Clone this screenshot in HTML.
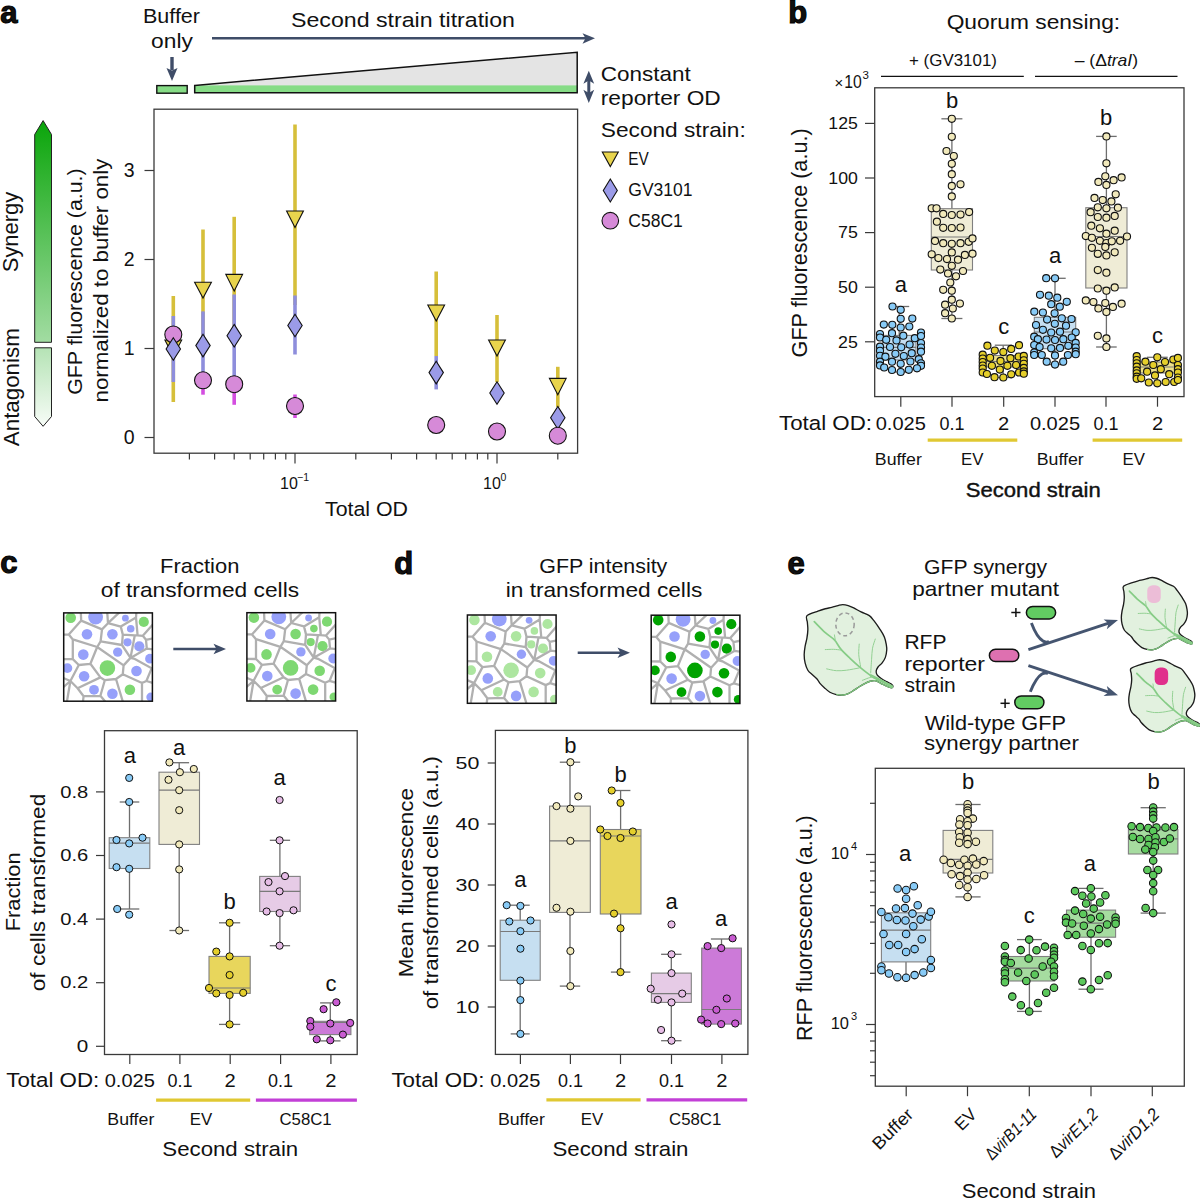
<!DOCTYPE html><html><head><meta charset="utf-8"><style>html,body{margin:0;padding:0;background:#fff;}svg{display:block;}text{font-family:"Liberation Sans",sans-serif;fill:#111;}</style></head><body>
<svg width="1200" height="1199" viewBox="0 0 1200 1199">
<rect width="1200" height="1199" fill="#fff"/>
<text x="0.3" y="22.7" font-size="31" font-weight="bold" stroke="#000" stroke-width="1.1" fill="#000">a</text>
<text x="171.5" y="22.7" font-size="21" text-anchor="middle" textLength="57" lengthAdjust="spacingAndGlyphs">Buffer</text>
<text x="172.0" y="47.8" font-size="21" text-anchor="middle" textLength="41.8" lengthAdjust="spacingAndGlyphs">only</text>
<line x1="172.0" y1="57.0" x2="172.0" y2="70.0" stroke="#3f4d68" stroke-width="3.4"/>
<path d="M166.5,68 L172,81 L177.5,68 L172,70.5 Z" fill="#3f4d68"/>
<text x="403.0" y="27.0" font-size="20.5" text-anchor="middle" textLength="224" lengthAdjust="spacingAndGlyphs">Second strain titration</text>
<line x1="212.0" y1="38.3" x2="588.0" y2="38.3" stroke="#3f4d68" stroke-width="2.6"/>
<path d="M582.5,33.3 L595,38.3 L582.5,43.7 L585.5,38.3 Z" fill="#3f4d68"/>
<rect x="156.8" y="85.6" width="30.4" height="7.6" fill="#86dc86" stroke="#111" stroke-width="1.4"/>
<path d="M194.7,85.4 L577.2,52.2 L577.2,92.8 L194.7,92.8 Z" fill="#e4e4e4" stroke="none"/>
<rect x="194.7" y="85.4" width="382.5" height="7.4" fill="#86dc86" stroke="none" stroke-width="1"/>
<path d="M194.7,85.4 L577.2,52.2 L577.2,92.8 L194.7,92.8 Z" fill="none" stroke="#111" stroke-width="1.5" stroke-linejoin="miter"/>
<line x1="588.8" y1="78.0" x2="588.8" y2="96.0" stroke="#3f4d68" stroke-width="3"/>
<path d="M588.8,70.7 L594.1999999999999,83.8 L588.8,80.5 L583.4,83.8 Z" fill="#3f4d68"/>
<path d="M588.8,102.9 L594.1999999999999,89.8 L588.8,93.1 L583.4,89.8 Z" fill="#3f4d68"/>
<text x="600.8" y="80.8" font-size="21" textLength="90" lengthAdjust="spacingAndGlyphs">Constant</text>
<text x="600.8" y="105.0" font-size="21" textLength="120" lengthAdjust="spacingAndGlyphs">reporter OD</text>
<text x="600.8" y="137.0" font-size="21" textLength="145" lengthAdjust="spacingAndGlyphs">Second strain:</text>
<path d="M602.3,152 L618.3,152 L610.3,166.5 Z" fill="#e8d44d" stroke="#111" stroke-width="1.1"/>
<text x="628.3" y="165.0" font-size="17.5" textLength="20.5" lengthAdjust="spacingAndGlyphs">EV</text>
<path d="M610.3,179 L617.3,190.5 L610.3,202 L603.3,190.5 Z" fill="#9b9be8" stroke="#111" stroke-width="1.1"/>
<text x="628.3" y="196.0" font-size="17.5">GV3101</text>
<circle cx="610.3" cy="220.7" r="8.3" fill="#d68ad8" stroke="#111" stroke-width="1.1"/>
<text x="628.3" y="227.0" font-size="17.5">C58C1</text>
<defs><linearGradient id="gA" x1="0" y1="0" x2="0" y2="1">
<stop offset="0" stop-color="#0aa50a"/><stop offset="1" stop-color="#a2dca2"/></linearGradient>
<linearGradient id="gB" x1="0" y1="0" x2="0" y2="1">
<stop offset="0" stop-color="#b5e3b5"/><stop offset="1" stop-color="#f7fcf7"/></linearGradient></defs>
<path d="M34.7,134.5 L43.1,120.6 L51.5,134.5 L51.5,342.3 L34.7,342.3 Z" fill="url(#gA)" stroke="#222" stroke-width="1"/>
<path d="M34.7,347.8 L51.5,347.8 L51.5,416.5 L43.1,426.3 L34.7,416.5 Z" fill="url(#gB)" stroke="#222" stroke-width="1"/>
<text transform="translate(18.3,232.0) rotate(-90)" font-size="21.5" text-anchor="middle" textLength="80.5" lengthAdjust="spacingAndGlyphs">Synergy</text>
<text transform="translate(18.7,387.2) rotate(-90)" font-size="21.5" text-anchor="middle" textLength="117.9" lengthAdjust="spacingAndGlyphs">Antagonism</text>
<text transform="translate(82.0,281.6) rotate(-90)" font-size="21" text-anchor="middle" textLength="226.5" lengthAdjust="spacingAndGlyphs">GFP fluorescence (a.u.)</text>
<text transform="translate(108.0,280.6) rotate(-90)" font-size="21" text-anchor="middle" textLength="243.8" lengthAdjust="spacingAndGlyphs">normalized to buffer only</text>
<rect x="154.0" y="109.2" width="423.6" height="344.0" fill="none" stroke="#3a3a3a" stroke-width="1.3"/>
<line x1="144.5" y1="437.5" x2="154.0" y2="437.5" stroke="#3a3a3a" stroke-width="1.2"/>
<text x="134.6" y="444.4" font-size="19.5" text-anchor="end">0</text>
<line x1="144.5" y1="348.5" x2="154.0" y2="348.5" stroke="#3a3a3a" stroke-width="1.2"/>
<text x="134.6" y="355.4" font-size="19.5" text-anchor="end">1</text>
<line x1="144.5" y1="259.5" x2="154.0" y2="259.5" stroke="#3a3a3a" stroke-width="1.2"/>
<text x="134.6" y="266.4" font-size="19.5" text-anchor="end">2</text>
<line x1="144.5" y1="170.5" x2="154.0" y2="170.5" stroke="#3a3a3a" stroke-width="1.2"/>
<text x="134.6" y="177.4" font-size="19.5" text-anchor="end">3</text>
<line x1="189.4" y1="453.0" x2="189.4" y2="459.5" stroke="#3a3a3a" stroke-width="1.2"/>
<line x1="214.6" y1="453.0" x2="214.6" y2="459.5" stroke="#3a3a3a" stroke-width="1.2"/>
<line x1="234.2" y1="453.0" x2="234.2" y2="459.5" stroke="#3a3a3a" stroke-width="1.2"/>
<line x1="250.2" y1="453.0" x2="250.2" y2="459.5" stroke="#3a3a3a" stroke-width="1.2"/>
<line x1="263.7" y1="453.0" x2="263.7" y2="459.5" stroke="#3a3a3a" stroke-width="1.2"/>
<line x1="275.4" y1="453.0" x2="275.4" y2="459.5" stroke="#3a3a3a" stroke-width="1.2"/>
<line x1="285.8" y1="453.0" x2="285.8" y2="459.5" stroke="#3a3a3a" stroke-width="1.2"/>
<line x1="355.8" y1="453.0" x2="355.8" y2="459.5" stroke="#3a3a3a" stroke-width="1.2"/>
<line x1="391.4" y1="453.0" x2="391.4" y2="459.5" stroke="#3a3a3a" stroke-width="1.2"/>
<line x1="416.6" y1="453.0" x2="416.6" y2="459.5" stroke="#3a3a3a" stroke-width="1.2"/>
<line x1="436.2" y1="453.0" x2="436.2" y2="459.5" stroke="#3a3a3a" stroke-width="1.2"/>
<line x1="452.2" y1="453.0" x2="452.2" y2="459.5" stroke="#3a3a3a" stroke-width="1.2"/>
<line x1="465.7" y1="453.0" x2="465.7" y2="459.5" stroke="#3a3a3a" stroke-width="1.2"/>
<line x1="477.4" y1="453.0" x2="477.4" y2="459.5" stroke="#3a3a3a" stroke-width="1.2"/>
<line x1="487.8" y1="453.0" x2="487.8" y2="459.5" stroke="#3a3a3a" stroke-width="1.2"/>
<line x1="557.8" y1="453.0" x2="557.8" y2="459.5" stroke="#3a3a3a" stroke-width="1.2"/>
<line x1="295.0" y1="453.0" x2="295.0" y2="463.5" stroke="#3a3a3a" stroke-width="1.2"/>
<line x1="497.0" y1="453.0" x2="497.0" y2="463.5" stroke="#3a3a3a" stroke-width="1.2"/>
<text x="289.0" y="488.7" font-size="16" text-anchor="middle">10</text>
<text x="303.0" y="481.0" font-size="10.5" text-anchor="middle">−1</text>
<text x="492.0" y="488.7" font-size="16" text-anchor="middle">10</text>
<text x="503.5" y="481.0" font-size="10.5" text-anchor="middle">0</text>
<text x="366.5" y="516.0" font-size="20.5" text-anchor="middle" textLength="83" lengthAdjust="spacingAndGlyphs">Total OD</text>
<line x1="173.3" y1="296.0" x2="173.3" y2="402.0" stroke="#d6bf3a" stroke-width="3.6"/>
<line x1="203.0" y1="229.5" x2="203.0" y2="344.0" stroke="#d6bf3a" stroke-width="3.6"/>
<line x1="234.2" y1="216.8" x2="234.2" y2="337.0" stroke="#d6bf3a" stroke-width="3.6"/>
<line x1="295.0" y1="124.5" x2="295.0" y2="305.0" stroke="#d6bf3a" stroke-width="3.6"/>
<line x1="436.2" y1="271.5" x2="436.2" y2="356.0" stroke="#d6bf3a" stroke-width="3.6"/>
<line x1="497.0" y1="315.0" x2="497.0" y2="382.0" stroke="#d6bf3a" stroke-width="3.6"/>
<line x1="557.8" y1="366.8" x2="557.8" y2="407.0" stroke="#d6bf3a" stroke-width="3.6"/>
<line x1="173.3" y1="316.0" x2="173.3" y2="382.0" stroke="#8e8edc" stroke-width="3.6"/>
<line x1="203.0" y1="311.4" x2="203.0" y2="375.0" stroke="#8e8edc" stroke-width="3.6"/>
<line x1="234.2" y1="294.5" x2="234.2" y2="378.0" stroke="#8e8edc" stroke-width="3.6"/>
<line x1="295.0" y1="295.5" x2="295.0" y2="354.5" stroke="#8e8edc" stroke-width="3.6"/>
<line x1="436.2" y1="356.0" x2="436.2" y2="389.4" stroke="#8e8edc" stroke-width="3.6"/>
<line x1="497.0" y1="385.0" x2="497.0" y2="400.0" stroke="#8e8edc" stroke-width="3.6"/>
<line x1="557.8" y1="410.0" x2="557.8" y2="425.0" stroke="#8e8edc" stroke-width="3.6"/>
<line x1="173.3" y1="330.0" x2="173.3" y2="340.0" stroke="#d44ee0" stroke-width="3.6"/>
<line x1="203.0" y1="375.0" x2="203.0" y2="394.7" stroke="#d44ee0" stroke-width="3.6"/>
<line x1="234.2" y1="378.0" x2="234.2" y2="404.8" stroke="#d44ee0" stroke-width="3.6"/>
<line x1="295.0" y1="394.5" x2="295.0" y2="418.0" stroke="#d44ee0" stroke-width="3.6"/>
<path d="M164.9,340 L181.7,340 L173.3,356 Z" fill="#e8d44d" stroke="#111" stroke-width="1.1"/>
<path d="M194.6,282.3 L211.4,282.3 L203.0,298 Z" fill="#e8d44d" stroke="#111" stroke-width="1.1"/>
<path d="M225.8,274.4 L242.6,274.4 L234.2,291 Z" fill="#e8d44d" stroke="#111" stroke-width="1.1"/>
<path d="M286.6,211 L303.4,211 L295.0,227.5 Z" fill="#e8d44d" stroke="#111" stroke-width="1.1"/>
<path d="M427.8,305 L444.6,305 L436.2,321 Z" fill="#e8d44d" stroke="#111" stroke-width="1.1"/>
<path d="M488.6,340 L505.4,340 L497.0,356 Z" fill="#e8d44d" stroke="#111" stroke-width="1.1"/>
<path d="M549.4,378.4 L566.2,378.4 L557.8,394.8 Z" fill="#e8d44d" stroke="#111" stroke-width="1.1"/>
<circle cx="173.3" cy="334.5" r="8.5" fill="#d68ad8" stroke="#111" stroke-width="1.1"/>
<path d="M173.3,337.7 L180.5,349.0 L173.3,360.3 L166.1,349.0 Z" fill="#9b9be8" stroke="#111" stroke-width="1.1"/>
<path d="M203.0,334.3 L210.2,345.6 L203.0,356.9 L195.8,345.6 Z" fill="#9b9be8" stroke="#111" stroke-width="1.1"/>
<path d="M234.2,324.4 L241.4,335.7 L234.2,347.0 L227.0,335.7 Z" fill="#9b9be8" stroke="#111" stroke-width="1.1"/>
<path d="M295.0,314.2 L302.2,325.5 L295.0,336.8 L287.8,325.5 Z" fill="#9b9be8" stroke="#111" stroke-width="1.1"/>
<path d="M436.2,361.3 L443.4,372.6 L436.2,383.9 L429.0,372.6 Z" fill="#9b9be8" stroke="#111" stroke-width="1.1"/>
<path d="M497.0,381.7 L504.2,393.0 L497.0,404.3 L489.8,393.0 Z" fill="#9b9be8" stroke="#111" stroke-width="1.1"/>
<path d="M557.8,406.4 L565.0,417.7 L557.8,429.0 L550.6,417.7 Z" fill="#9b9be8" stroke="#111" stroke-width="1.1"/>
<circle cx="203.0" cy="380.3" r="8.5" fill="#d68ad8" stroke="#111" stroke-width="1.1"/>
<circle cx="234.2" cy="384.2" r="8.5" fill="#d68ad8" stroke="#111" stroke-width="1.1"/>
<circle cx="295.0" cy="406.0" r="8.5" fill="#d68ad8" stroke="#111" stroke-width="1.1"/>
<circle cx="436.2" cy="425.0" r="8.5" fill="#d68ad8" stroke="#111" stroke-width="1.1"/>
<circle cx="497.0" cy="431.5" r="8.5" fill="#d68ad8" stroke="#111" stroke-width="1.1"/>
<circle cx="557.8" cy="435.7" r="8.5" fill="#d68ad8" stroke="#111" stroke-width="1.1"/>
<text x="788.2" y="23.3" font-size="31" font-weight="bold" stroke="#000" stroke-width="1.1" fill="#000">b</text>
<text x="1033.4" y="29.4" font-size="20.5" text-anchor="middle" textLength="173.5" lengthAdjust="spacingAndGlyphs">Quorum sensing:</text>
<text x="953.0" y="66.3" font-size="16.5" text-anchor="middle" textLength="87.9" lengthAdjust="spacingAndGlyphs">+ (GV3101)</text>
<text x="1106.4" y="66.3" font-size="16.5" text-anchor="middle" textLength="63.4" lengthAdjust="spacingAndGlyphs">– (Δ<tspan font-style="italic">traI</tspan>)</text>
<line x1="881.0" y1="76.3" x2="1023.8" y2="76.3" stroke="#111" stroke-width="1.2"/>
<line x1="1035.0" y1="76.3" x2="1177.5" y2="76.3" stroke="#111" stroke-width="1.2"/>
<text x="834.5" y="88.0" font-size="15">×</text>
<text x="844.2" y="88.0" font-size="17.5" textLength="17.5" lengthAdjust="spacingAndGlyphs">10</text>
<text x="862.5" y="79.0" font-size="11.5">3</text>
<line x1="899.2" y1="306.5" x2="899.2" y2="335.4" stroke="#6e6e6e" stroke-width="1.3"/>
<line x1="889.2" y1="306.5" x2="909.2" y2="306.5" stroke="#6e6e6e" stroke-width="1.3"/>
<line x1="899.2" y1="360.0" x2="899.2" y2="372.0" stroke="#6e6e6e" stroke-width="1.3"/>
<line x1="889.2" y1="372.0" x2="909.2" y2="372.0" stroke="#6e6e6e" stroke-width="1.3"/>
<rect x="882.5" y="335.4" width="33.5" height="24.6" fill="#c6dff1" stroke="#808080" stroke-width="1.1"/>
<line x1="882.5" y1="347.3" x2="916.0" y2="347.3" stroke="#7a7a7a" stroke-width="1.2"/>
<line x1="951.9" y1="118.8" x2="951.9" y2="208.7" stroke="#6e6e6e" stroke-width="1.3"/>
<line x1="941.4" y1="118.8" x2="962.4" y2="118.8" stroke="#6e6e6e" stroke-width="1.3"/>
<line x1="951.9" y1="270.0" x2="951.9" y2="318.5" stroke="#6e6e6e" stroke-width="1.3"/>
<line x1="941.4" y1="318.5" x2="962.4" y2="318.5" stroke="#6e6e6e" stroke-width="1.3"/>
<rect x="931.3" y="208.7" width="41.2" height="61.3" fill="#efecd6" stroke="#808080" stroke-width="1.1"/>
<line x1="931.3" y1="237.0" x2="972.5" y2="237.0" stroke="#7a7a7a" stroke-width="1.2"/>
<line x1="1003.2" y1="345.2" x2="1003.2" y2="355.5" stroke="#6e6e6e" stroke-width="1.3"/>
<line x1="994.8" y1="345.2" x2="1011.8" y2="345.2" stroke="#6e6e6e" stroke-width="1.3"/>
<line x1="1003.2" y1="367.0" x2="1003.2" y2="377.5" stroke="#6e6e6e" stroke-width="1.3"/>
<line x1="994.8" y1="377.5" x2="1011.8" y2="377.5" stroke="#6e6e6e" stroke-width="1.3"/>
<rect x="982.7" y="355.5" width="41.1" height="11.5" fill="#ece08a" stroke="#808080" stroke-width="1.1"/>
<line x1="982.7" y1="361.5" x2="1023.8" y2="361.5" stroke="#7a7a7a" stroke-width="1.2"/>
<line x1="1055.0" y1="278.3" x2="1055.0" y2="317.3" stroke="#6e6e6e" stroke-width="1.3"/>
<line x1="1044.3" y1="278.3" x2="1065.7" y2="278.3" stroke="#6e6e6e" stroke-width="1.3"/>
<line x1="1055.0" y1="348.8" x2="1055.0" y2="364.6" stroke="#6e6e6e" stroke-width="1.3"/>
<line x1="1044.3" y1="364.6" x2="1065.7" y2="364.6" stroke="#6e6e6e" stroke-width="1.3"/>
<rect x="1034.3" y="317.3" width="41.4" height="31.4" fill="#c6dff1" stroke="#808080" stroke-width="1.1"/>
<line x1="1034.3" y1="332.0" x2="1075.7" y2="332.0" stroke="#7a7a7a" stroke-width="1.2"/>
<line x1="1106.4" y1="136.4" x2="1106.4" y2="207.7" stroke="#6e6e6e" stroke-width="1.3"/>
<line x1="1096.1" y1="136.4" x2="1116.7" y2="136.4" stroke="#6e6e6e" stroke-width="1.3"/>
<line x1="1106.4" y1="288.0" x2="1106.4" y2="347.0" stroke="#6e6e6e" stroke-width="1.3"/>
<line x1="1096.1" y1="347.0" x2="1116.7" y2="347.0" stroke="#6e6e6e" stroke-width="1.3"/>
<rect x="1085.8" y="207.7" width="41.2" height="80.3" fill="#efecd6" stroke="#808080" stroke-width="1.1"/>
<line x1="1085.8" y1="236.5" x2="1127.0" y2="236.5" stroke="#7a7a7a" stroke-width="1.2"/>
<line x1="1157.3" y1="357.3" x2="1157.3" y2="362.0" stroke="#6e6e6e" stroke-width="1.3"/>
<line x1="1146.9" y1="357.3" x2="1167.7" y2="357.3" stroke="#6e6e6e" stroke-width="1.3"/>
<line x1="1157.3" y1="373.0" x2="1157.3" y2="383.3" stroke="#6e6e6e" stroke-width="1.3"/>
<line x1="1146.9" y1="383.3" x2="1167.7" y2="383.3" stroke="#6e6e6e" stroke-width="1.3"/>
<rect x="1136.7" y="362.0" width="41.2" height="11.0" fill="#ece08a" stroke="#808080" stroke-width="1.1"/>
<line x1="1136.7" y1="367.0" x2="1177.9" y2="367.0" stroke="#7a7a7a" stroke-width="1.2"/>
<circle cx="892.5" cy="306.5" r="3.55" fill="#88cbf7" stroke="#111" stroke-width="1.1"/>
<circle cx="900.7" cy="309.8" r="3.55" fill="#88cbf7" stroke="#111" stroke-width="1.1"/>
<circle cx="900.7" cy="318.8" r="3.55" fill="#88cbf7" stroke="#111" stroke-width="1.1"/>
<circle cx="912.3" cy="318.6" r="3.55" fill="#88cbf7" stroke="#111" stroke-width="1.1"/>
<circle cx="883.8" cy="324.6" r="3.55" fill="#88cbf7" stroke="#111" stroke-width="1.1"/>
<circle cx="892.3" cy="324.8" r="3.55" fill="#88cbf7" stroke="#111" stroke-width="1.1"/>
<circle cx="900.7" cy="327.5" r="3.55" fill="#88cbf7" stroke="#111" stroke-width="1.1"/>
<circle cx="909.3" cy="326.5" r="3.55" fill="#88cbf7" stroke="#111" stroke-width="1.1"/>
<circle cx="880.0" cy="334.0" r="3.55" fill="#88cbf7" stroke="#111" stroke-width="1.1"/>
<circle cx="892.0" cy="333.2" r="3.55" fill="#88cbf7" stroke="#111" stroke-width="1.1"/>
<circle cx="903.3" cy="335.7" r="3.55" fill="#88cbf7" stroke="#111" stroke-width="1.1"/>
<circle cx="914.8" cy="338.2" r="3.55" fill="#88cbf7" stroke="#111" stroke-width="1.1"/>
<circle cx="921.0" cy="332.5" r="3.55" fill="#88cbf7" stroke="#111" stroke-width="1.1"/>
<circle cx="880.0" cy="337.5" r="3.55" fill="#88cbf7" stroke="#111" stroke-width="1.1"/>
<circle cx="886.2" cy="339.8" r="3.55" fill="#88cbf7" stroke="#111" stroke-width="1.1"/>
<circle cx="896.5" cy="340.4" r="3.55" fill="#88cbf7" stroke="#111" stroke-width="1.1"/>
<circle cx="921.0" cy="336.0" r="3.55" fill="#88cbf7" stroke="#111" stroke-width="1.1"/>
<circle cx="921.0" cy="343.0" r="3.55" fill="#88cbf7" stroke="#111" stroke-width="1.1"/>
<circle cx="921.0" cy="347.5" r="3.55" fill="#88cbf7" stroke="#111" stroke-width="1.1"/>
<circle cx="921.0" cy="351.7" r="3.55" fill="#88cbf7" stroke="#111" stroke-width="1.1"/>
<circle cx="880.0" cy="346.7" r="3.55" fill="#88cbf7" stroke="#111" stroke-width="1.1"/>
<circle cx="880.0" cy="350.8" r="3.55" fill="#88cbf7" stroke="#111" stroke-width="1.1"/>
<circle cx="890.0" cy="347.0" r="3.55" fill="#88cbf7" stroke="#111" stroke-width="1.1"/>
<circle cx="901.2" cy="347.3" r="3.55" fill="#88cbf7" stroke="#111" stroke-width="1.1"/>
<circle cx="909.6" cy="344.6" r="3.55" fill="#88cbf7" stroke="#111" stroke-width="1.1"/>
<circle cx="895.4" cy="353.8" r="3.55" fill="#88cbf7" stroke="#111" stroke-width="1.1"/>
<circle cx="911.7" cy="353.2" r="3.55" fill="#88cbf7" stroke="#111" stroke-width="1.1"/>
<circle cx="880.0" cy="355.8" r="3.55" fill="#88cbf7" stroke="#111" stroke-width="1.1"/>
<circle cx="885.4" cy="356.7" r="3.55" fill="#88cbf7" stroke="#111" stroke-width="1.1"/>
<circle cx="903.8" cy="356.0" r="3.55" fill="#88cbf7" stroke="#111" stroke-width="1.1"/>
<circle cx="918.8" cy="359.2" r="3.55" fill="#88cbf7" stroke="#111" stroke-width="1.1"/>
<circle cx="880.0" cy="361.7" r="3.55" fill="#88cbf7" stroke="#111" stroke-width="1.1"/>
<circle cx="892.0" cy="361.7" r="3.55" fill="#88cbf7" stroke="#111" stroke-width="1.1"/>
<circle cx="900.7" cy="363.8" r="3.55" fill="#88cbf7" stroke="#111" stroke-width="1.1"/>
<circle cx="910.4" cy="361.5" r="3.55" fill="#88cbf7" stroke="#111" stroke-width="1.1"/>
<circle cx="921.0" cy="363.3" r="3.55" fill="#88cbf7" stroke="#111" stroke-width="1.1"/>
<circle cx="921.0" cy="365.8" r="3.55" fill="#88cbf7" stroke="#111" stroke-width="1.1"/>
<circle cx="880.0" cy="365.4" r="3.55" fill="#88cbf7" stroke="#111" stroke-width="1.1"/>
<circle cx="884.2" cy="367.5" r="3.55" fill="#88cbf7" stroke="#111" stroke-width="1.1"/>
<circle cx="892.0" cy="370.0" r="3.55" fill="#88cbf7" stroke="#111" stroke-width="1.1"/>
<circle cx="900.7" cy="372.0" r="3.55" fill="#88cbf7" stroke="#111" stroke-width="1.1"/>
<circle cx="908.8" cy="369.8" r="3.55" fill="#88cbf7" stroke="#111" stroke-width="1.1"/>
<circle cx="917.0" cy="368.3" r="3.55" fill="#88cbf7" stroke="#111" stroke-width="1.1"/>
<circle cx="951.8" cy="118.8" r="3.55" fill="#f1e9bb" stroke="#111" stroke-width="1.1"/>
<circle cx="951.8" cy="136.8" r="3.55" fill="#f1e9bb" stroke="#111" stroke-width="1.1"/>
<circle cx="946.5" cy="151.0" r="3.55" fill="#f1e9bb" stroke="#111" stroke-width="1.1"/>
<circle cx="953.8" cy="156.0" r="3.55" fill="#f1e9bb" stroke="#111" stroke-width="1.1"/>
<circle cx="951.8" cy="163.8" r="3.55" fill="#f1e9bb" stroke="#111" stroke-width="1.1"/>
<circle cx="951.8" cy="174.2" r="3.55" fill="#f1e9bb" stroke="#111" stroke-width="1.1"/>
<circle cx="951.8" cy="185.9" r="3.55" fill="#f1e9bb" stroke="#111" stroke-width="1.1"/>
<circle cx="960.5" cy="184.3" r="3.55" fill="#f1e9bb" stroke="#111" stroke-width="1.1"/>
<circle cx="951.8" cy="196.4" r="3.55" fill="#f1e9bb" stroke="#111" stroke-width="1.1"/>
<circle cx="931.7" cy="208.3" r="3.55" fill="#f1e9bb" stroke="#111" stroke-width="1.1"/>
<circle cx="936.5" cy="208.3" r="3.55" fill="#f1e9bb" stroke="#111" stroke-width="1.1"/>
<circle cx="943.2" cy="213.9" r="3.55" fill="#f1e9bb" stroke="#111" stroke-width="1.1"/>
<circle cx="951.8" cy="215.0" r="3.55" fill="#f1e9bb" stroke="#111" stroke-width="1.1"/>
<circle cx="960.5" cy="214.6" r="3.55" fill="#f1e9bb" stroke="#111" stroke-width="1.1"/>
<circle cx="969.1" cy="212.1" r="3.55" fill="#f1e9bb" stroke="#111" stroke-width="1.1"/>
<circle cx="936.9" cy="221.7" r="3.55" fill="#f1e9bb" stroke="#111" stroke-width="1.1"/>
<circle cx="943.2" cy="227.8" r="3.55" fill="#f1e9bb" stroke="#111" stroke-width="1.1"/>
<circle cx="951.8" cy="228.0" r="3.55" fill="#f1e9bb" stroke="#111" stroke-width="1.1"/>
<circle cx="960.5" cy="227.5" r="3.55" fill="#f1e9bb" stroke="#111" stroke-width="1.1"/>
<circle cx="935.0" cy="240.9" r="3.55" fill="#f1e9bb" stroke="#111" stroke-width="1.1"/>
<circle cx="943.2" cy="243.2" r="3.55" fill="#f1e9bb" stroke="#111" stroke-width="1.1"/>
<circle cx="951.8" cy="243.8" r="3.55" fill="#f1e9bb" stroke="#111" stroke-width="1.1"/>
<circle cx="960.5" cy="243.2" r="3.55" fill="#f1e9bb" stroke="#111" stroke-width="1.1"/>
<circle cx="968.7" cy="241.8" r="3.55" fill="#f1e9bb" stroke="#111" stroke-width="1.1"/>
<circle cx="972.5" cy="238.4" r="3.55" fill="#f1e9bb" stroke="#111" stroke-width="1.1"/>
<circle cx="931.7" cy="254.3" r="3.55" fill="#f1e9bb" stroke="#111" stroke-width="1.1"/>
<circle cx="938.4" cy="258.1" r="3.55" fill="#f1e9bb" stroke="#111" stroke-width="1.1"/>
<circle cx="947.0" cy="259.1" r="3.55" fill="#f1e9bb" stroke="#111" stroke-width="1.1"/>
<circle cx="951.8" cy="252.4" r="3.55" fill="#f1e9bb" stroke="#111" stroke-width="1.1"/>
<circle cx="958.0" cy="259.7" r="3.55" fill="#f1e9bb" stroke="#111" stroke-width="1.1"/>
<circle cx="964.9" cy="254.9" r="3.55" fill="#f1e9bb" stroke="#111" stroke-width="1.1"/>
<circle cx="972.5" cy="253.7" r="3.55" fill="#f1e9bb" stroke="#111" stroke-width="1.1"/>
<circle cx="951.8" cy="265.8" r="3.55" fill="#f1e9bb" stroke="#111" stroke-width="1.1"/>
<circle cx="940.3" cy="269.6" r="3.55" fill="#f1e9bb" stroke="#111" stroke-width="1.1"/>
<circle cx="948.0" cy="273.5" r="3.55" fill="#f1e9bb" stroke="#111" stroke-width="1.1"/>
<circle cx="956.0" cy="276.3" r="3.55" fill="#f1e9bb" stroke="#111" stroke-width="1.1"/>
<circle cx="963.0" cy="271.0" r="3.55" fill="#f1e9bb" stroke="#111" stroke-width="1.1"/>
<circle cx="950.3" cy="282.5" r="3.55" fill="#f1e9bb" stroke="#111" stroke-width="1.1"/>
<circle cx="943.2" cy="289.8" r="3.55" fill="#f1e9bb" stroke="#111" stroke-width="1.1"/>
<circle cx="951.8" cy="290.7" r="3.55" fill="#f1e9bb" stroke="#111" stroke-width="1.1"/>
<circle cx="951.8" cy="299.7" r="3.55" fill="#f1e9bb" stroke="#111" stroke-width="1.1"/>
<circle cx="945.1" cy="304.7" r="3.55" fill="#f1e9bb" stroke="#111" stroke-width="1.1"/>
<circle cx="959.9" cy="303.6" r="3.55" fill="#f1e9bb" stroke="#111" stroke-width="1.1"/>
<circle cx="952.8" cy="308.5" r="3.55" fill="#f1e9bb" stroke="#111" stroke-width="1.1"/>
<circle cx="945.1" cy="313.2" r="3.55" fill="#f1e9bb" stroke="#111" stroke-width="1.1"/>
<circle cx="951.8" cy="318.5" r="3.55" fill="#f1e9bb" stroke="#111" stroke-width="1.1"/>
<circle cx="987.4" cy="345.7" r="3.55" fill="#e5cf2b" stroke="#111" stroke-width="1.1"/>
<circle cx="994.8" cy="350.6" r="3.55" fill="#e5cf2b" stroke="#111" stroke-width="1.1"/>
<circle cx="1003.3" cy="352.1" r="3.55" fill="#e5cf2b" stroke="#111" stroke-width="1.1"/>
<circle cx="1011.2" cy="348.9" r="3.55" fill="#e5cf2b" stroke="#111" stroke-width="1.1"/>
<circle cx="1019.0" cy="345.2" r="3.55" fill="#e5cf2b" stroke="#111" stroke-width="1.1"/>
<circle cx="982.7" cy="354.7" r="3.55" fill="#e5cf2b" stroke="#111" stroke-width="1.1"/>
<circle cx="990.1" cy="357.8" r="3.55" fill="#e5cf2b" stroke="#111" stroke-width="1.1"/>
<circle cx="1000.5" cy="360.9" r="3.55" fill="#e5cf2b" stroke="#111" stroke-width="1.1"/>
<circle cx="1010.4" cy="358.2" r="3.55" fill="#e5cf2b" stroke="#111" stroke-width="1.1"/>
<circle cx="1018.6" cy="356.5" r="3.55" fill="#e5cf2b" stroke="#111" stroke-width="1.1"/>
<circle cx="1023.8" cy="355.9" r="3.55" fill="#e5cf2b" stroke="#111" stroke-width="1.1"/>
<circle cx="982.7" cy="358.5" r="3.55" fill="#e5cf2b" stroke="#111" stroke-width="1.1"/>
<circle cx="982.7" cy="362.0" r="3.55" fill="#e5cf2b" stroke="#111" stroke-width="1.1"/>
<circle cx="982.7" cy="365.5" r="3.55" fill="#e5cf2b" stroke="#111" stroke-width="1.1"/>
<circle cx="982.7" cy="368.5" r="3.55" fill="#e5cf2b" stroke="#111" stroke-width="1.1"/>
<circle cx="982.7" cy="372.5" r="3.55" fill="#e5cf2b" stroke="#111" stroke-width="1.1"/>
<circle cx="991.9" cy="365.8" r="3.55" fill="#e5cf2b" stroke="#111" stroke-width="1.1"/>
<circle cx="1007.4" cy="365.8" r="3.55" fill="#e5cf2b" stroke="#111" stroke-width="1.1"/>
<circle cx="1016.1" cy="365.0" r="3.55" fill="#e5cf2b" stroke="#111" stroke-width="1.1"/>
<circle cx="999.8" cy="369.6" r="3.55" fill="#e5cf2b" stroke="#111" stroke-width="1.1"/>
<circle cx="986.9" cy="374.0" r="3.55" fill="#e5cf2b" stroke="#111" stroke-width="1.1"/>
<circle cx="994.5" cy="377.2" r="3.55" fill="#e5cf2b" stroke="#111" stroke-width="1.1"/>
<circle cx="1003.3" cy="377.5" r="3.55" fill="#e5cf2b" stroke="#111" stroke-width="1.1"/>
<circle cx="1011.2" cy="374.3" r="3.55" fill="#e5cf2b" stroke="#111" stroke-width="1.1"/>
<circle cx="1019.0" cy="372.5" r="3.55" fill="#e5cf2b" stroke="#111" stroke-width="1.1"/>
<circle cx="1023.8" cy="360.3" r="3.55" fill="#e5cf2b" stroke="#111" stroke-width="1.1"/>
<circle cx="1023.8" cy="363.8" r="3.55" fill="#e5cf2b" stroke="#111" stroke-width="1.1"/>
<circle cx="1023.8" cy="367.9" r="3.55" fill="#e5cf2b" stroke="#111" stroke-width="1.1"/>
<circle cx="1023.8" cy="371.4" r="3.55" fill="#e5cf2b" stroke="#111" stroke-width="1.1"/>
<circle cx="1023.8" cy="373.7" r="3.55" fill="#e5cf2b" stroke="#111" stroke-width="1.1"/>
<circle cx="1046.2" cy="278.2" r="3.55" fill="#88cbf7" stroke="#111" stroke-width="1.1"/>
<circle cx="1055.0" cy="278.3" r="3.55" fill="#88cbf7" stroke="#111" stroke-width="1.1"/>
<circle cx="1040.0" cy="294.8" r="3.55" fill="#88cbf7" stroke="#111" stroke-width="1.1"/>
<circle cx="1048.8" cy="295.7" r="3.55" fill="#88cbf7" stroke="#111" stroke-width="1.1"/>
<circle cx="1057.3" cy="297.7" r="3.55" fill="#88cbf7" stroke="#111" stroke-width="1.1"/>
<circle cx="1066.8" cy="301.8" r="3.55" fill="#88cbf7" stroke="#111" stroke-width="1.1"/>
<circle cx="1051.2" cy="304.2" r="3.55" fill="#88cbf7" stroke="#111" stroke-width="1.1"/>
<circle cx="1059.8" cy="306.7" r="3.55" fill="#88cbf7" stroke="#111" stroke-width="1.1"/>
<circle cx="1034.3" cy="311.7" r="3.55" fill="#88cbf7" stroke="#111" stroke-width="1.1"/>
<circle cx="1042.9" cy="312.5" r="3.55" fill="#88cbf7" stroke="#111" stroke-width="1.1"/>
<circle cx="1054.6" cy="313.3" r="3.55" fill="#88cbf7" stroke="#111" stroke-width="1.1"/>
<circle cx="1047.1" cy="319.6" r="3.55" fill="#88cbf7" stroke="#111" stroke-width="1.1"/>
<circle cx="1061.8" cy="318.3" r="3.55" fill="#88cbf7" stroke="#111" stroke-width="1.1"/>
<circle cx="1071.5" cy="319.0" r="3.55" fill="#88cbf7" stroke="#111" stroke-width="1.1"/>
<circle cx="1054.8" cy="323.8" r="3.55" fill="#88cbf7" stroke="#111" stroke-width="1.1"/>
<circle cx="1036.0" cy="325.0" r="3.55" fill="#88cbf7" stroke="#111" stroke-width="1.1"/>
<circle cx="1066.0" cy="325.7" r="3.55" fill="#88cbf7" stroke="#111" stroke-width="1.1"/>
<circle cx="1042.9" cy="329.8" r="3.55" fill="#88cbf7" stroke="#111" stroke-width="1.1"/>
<circle cx="1051.2" cy="332.5" r="3.55" fill="#88cbf7" stroke="#111" stroke-width="1.1"/>
<circle cx="1060.0" cy="331.7" r="3.55" fill="#88cbf7" stroke="#111" stroke-width="1.1"/>
<circle cx="1075.7" cy="332.3" r="3.55" fill="#88cbf7" stroke="#111" stroke-width="1.1"/>
<circle cx="1034.2" cy="336.7" r="3.55" fill="#88cbf7" stroke="#111" stroke-width="1.1"/>
<circle cx="1037.9" cy="339.2" r="3.55" fill="#88cbf7" stroke="#111" stroke-width="1.1"/>
<circle cx="1046.5" cy="339.6" r="3.55" fill="#88cbf7" stroke="#111" stroke-width="1.1"/>
<circle cx="1055.0" cy="340.0" r="3.55" fill="#88cbf7" stroke="#111" stroke-width="1.1"/>
<circle cx="1063.3" cy="339.2" r="3.55" fill="#88cbf7" stroke="#111" stroke-width="1.1"/>
<circle cx="1071.7" cy="337.5" r="3.55" fill="#88cbf7" stroke="#111" stroke-width="1.1"/>
<circle cx="1034.2" cy="345.0" r="3.55" fill="#88cbf7" stroke="#111" stroke-width="1.1"/>
<circle cx="1039.6" cy="347.1" r="3.55" fill="#88cbf7" stroke="#111" stroke-width="1.1"/>
<circle cx="1051.2" cy="348.3" r="3.55" fill="#88cbf7" stroke="#111" stroke-width="1.1"/>
<circle cx="1060.0" cy="347.9" r="3.55" fill="#88cbf7" stroke="#111" stroke-width="1.1"/>
<circle cx="1068.3" cy="345.8" r="3.55" fill="#88cbf7" stroke="#111" stroke-width="1.1"/>
<circle cx="1075.7" cy="342.9" r="3.55" fill="#88cbf7" stroke="#111" stroke-width="1.1"/>
<circle cx="1075.7" cy="347.5" r="3.55" fill="#88cbf7" stroke="#111" stroke-width="1.1"/>
<circle cx="1075.7" cy="351.7" r="3.55" fill="#88cbf7" stroke="#111" stroke-width="1.1"/>
<circle cx="1075.7" cy="354.2" r="3.55" fill="#88cbf7" stroke="#111" stroke-width="1.1"/>
<circle cx="1034.2" cy="352.5" r="3.55" fill="#88cbf7" stroke="#111" stroke-width="1.1"/>
<circle cx="1034.2" cy="355.0" r="3.55" fill="#88cbf7" stroke="#111" stroke-width="1.1"/>
<circle cx="1041.8" cy="355.0" r="3.55" fill="#88cbf7" stroke="#111" stroke-width="1.1"/>
<circle cx="1055.0" cy="355.4" r="3.55" fill="#88cbf7" stroke="#111" stroke-width="1.1"/>
<circle cx="1067.9" cy="355.0" r="3.55" fill="#88cbf7" stroke="#111" stroke-width="1.1"/>
<circle cx="1046.7" cy="361.7" r="3.55" fill="#88cbf7" stroke="#111" stroke-width="1.1"/>
<circle cx="1055.0" cy="364.6" r="3.55" fill="#88cbf7" stroke="#111" stroke-width="1.1"/>
<circle cx="1063.2" cy="361.7" r="3.55" fill="#88cbf7" stroke="#111" stroke-width="1.1"/>
<circle cx="1106.4" cy="136.4" r="3.55" fill="#f1e9bb" stroke="#111" stroke-width="1.1"/>
<circle cx="1106.4" cy="163.3" r="3.55" fill="#f1e9bb" stroke="#111" stroke-width="1.1"/>
<circle cx="1105.3" cy="176.3" r="3.55" fill="#f1e9bb" stroke="#111" stroke-width="1.1"/>
<circle cx="1098.4" cy="181.9" r="3.55" fill="#f1e9bb" stroke="#111" stroke-width="1.1"/>
<circle cx="1106.4" cy="184.9" r="3.55" fill="#f1e9bb" stroke="#111" stroke-width="1.1"/>
<circle cx="1113.6" cy="180.2" r="3.55" fill="#f1e9bb" stroke="#111" stroke-width="1.1"/>
<circle cx="1121.6" cy="177.4" r="3.55" fill="#f1e9bb" stroke="#111" stroke-width="1.1"/>
<circle cx="1094.5" cy="197.9" r="3.55" fill="#f1e9bb" stroke="#111" stroke-width="1.1"/>
<circle cx="1102.7" cy="200.1" r="3.55" fill="#f1e9bb" stroke="#111" stroke-width="1.1"/>
<circle cx="1111.4" cy="201.4" r="3.55" fill="#f1e9bb" stroke="#111" stroke-width="1.1"/>
<circle cx="1115.7" cy="194.3" r="3.55" fill="#f1e9bb" stroke="#111" stroke-width="1.1"/>
<circle cx="1097.8" cy="207.3" r="3.55" fill="#f1e9bb" stroke="#111" stroke-width="1.1"/>
<circle cx="1106.4" cy="208.3" r="3.55" fill="#f1e9bb" stroke="#111" stroke-width="1.1"/>
<circle cx="1117.9" cy="207.7" r="3.55" fill="#f1e9bb" stroke="#111" stroke-width="1.1"/>
<circle cx="1090.6" cy="212.2" r="3.55" fill="#f1e9bb" stroke="#111" stroke-width="1.1"/>
<circle cx="1097.8" cy="217.0" r="3.55" fill="#f1e9bb" stroke="#111" stroke-width="1.1"/>
<circle cx="1106.4" cy="217.7" r="3.55" fill="#f1e9bb" stroke="#111" stroke-width="1.1"/>
<circle cx="1114.7" cy="215.9" r="3.55" fill="#f1e9bb" stroke="#111" stroke-width="1.1"/>
<circle cx="1091.3" cy="225.7" r="3.55" fill="#f1e9bb" stroke="#111" stroke-width="1.1"/>
<circle cx="1099.9" cy="228.3" r="3.55" fill="#f1e9bb" stroke="#111" stroke-width="1.1"/>
<circle cx="1106.4" cy="233.7" r="3.55" fill="#f1e9bb" stroke="#111" stroke-width="1.1"/>
<circle cx="1114.7" cy="230.7" r="3.55" fill="#f1e9bb" stroke="#111" stroke-width="1.1"/>
<circle cx="1085.8" cy="236.1" r="3.55" fill="#f1e9bb" stroke="#111" stroke-width="1.1"/>
<circle cx="1091.9" cy="237.8" r="3.55" fill="#f1e9bb" stroke="#111" stroke-width="1.1"/>
<circle cx="1099.9" cy="240.8" r="3.55" fill="#f1e9bb" stroke="#111" stroke-width="1.1"/>
<circle cx="1106.4" cy="243.0" r="3.55" fill="#f1e9bb" stroke="#111" stroke-width="1.1"/>
<circle cx="1111.8" cy="241.3" r="3.55" fill="#f1e9bb" stroke="#111" stroke-width="1.1"/>
<circle cx="1120.1" cy="240.8" r="3.55" fill="#f1e9bb" stroke="#111" stroke-width="1.1"/>
<circle cx="1127.0" cy="236.5" r="3.55" fill="#f1e9bb" stroke="#111" stroke-width="1.1"/>
<circle cx="1091.9" cy="247.8" r="3.55" fill="#f1e9bb" stroke="#111" stroke-width="1.1"/>
<circle cx="1105.3" cy="246.9" r="3.55" fill="#f1e9bb" stroke="#111" stroke-width="1.1"/>
<circle cx="1097.8" cy="253.8" r="3.55" fill="#f1e9bb" stroke="#111" stroke-width="1.1"/>
<circle cx="1106.4" cy="255.4" r="3.55" fill="#f1e9bb" stroke="#111" stroke-width="1.1"/>
<circle cx="1114.7" cy="252.3" r="3.55" fill="#f1e9bb" stroke="#111" stroke-width="1.1"/>
<circle cx="1097.8" cy="270.1" r="3.55" fill="#f1e9bb" stroke="#111" stroke-width="1.1"/>
<circle cx="1106.4" cy="272.7" r="3.55" fill="#f1e9bb" stroke="#111" stroke-width="1.1"/>
<circle cx="1097.8" cy="288.5" r="3.55" fill="#f1e9bb" stroke="#111" stroke-width="1.1"/>
<circle cx="1106.4" cy="290.7" r="3.55" fill="#f1e9bb" stroke="#111" stroke-width="1.1"/>
<circle cx="1114.7" cy="287.4" r="3.55" fill="#f1e9bb" stroke="#111" stroke-width="1.1"/>
<circle cx="1085.8" cy="300.4" r="3.55" fill="#f1e9bb" stroke="#111" stroke-width="1.1"/>
<circle cx="1093.4" cy="302.0" r="3.55" fill="#f1e9bb" stroke="#111" stroke-width="1.1"/>
<circle cx="1105.3" cy="303.0" r="3.55" fill="#f1e9bb" stroke="#111" stroke-width="1.1"/>
<circle cx="1098.4" cy="308.4" r="3.55" fill="#f1e9bb" stroke="#111" stroke-width="1.1"/>
<circle cx="1106.4" cy="311.9" r="3.55" fill="#f1e9bb" stroke="#111" stroke-width="1.1"/>
<circle cx="1112.9" cy="306.9" r="3.55" fill="#f1e9bb" stroke="#111" stroke-width="1.1"/>
<circle cx="1121.6" cy="303.7" r="3.55" fill="#f1e9bb" stroke="#111" stroke-width="1.1"/>
<circle cx="1097.8" cy="335.8" r="3.55" fill="#f1e9bb" stroke="#111" stroke-width="1.1"/>
<circle cx="1106.4" cy="338.4" r="3.55" fill="#f1e9bb" stroke="#111" stroke-width="1.1"/>
<circle cx="1106.4" cy="347.0" r="3.55" fill="#f1e9bb" stroke="#111" stroke-width="1.1"/>
<circle cx="1136.7" cy="356.2" r="3.55" fill="#e5cf2b" stroke="#111" stroke-width="1.1"/>
<circle cx="1136.7" cy="360.0" r="3.55" fill="#e5cf2b" stroke="#111" stroke-width="1.1"/>
<circle cx="1136.7" cy="363.3" r="3.55" fill="#e5cf2b" stroke="#111" stroke-width="1.1"/>
<circle cx="1136.7" cy="366.7" r="3.55" fill="#e5cf2b" stroke="#111" stroke-width="1.1"/>
<circle cx="1136.7" cy="370.4" r="3.55" fill="#e5cf2b" stroke="#111" stroke-width="1.1"/>
<circle cx="1136.7" cy="373.3" r="3.55" fill="#e5cf2b" stroke="#111" stroke-width="1.1"/>
<circle cx="1136.7" cy="376.7" r="3.55" fill="#e5cf2b" stroke="#111" stroke-width="1.1"/>
<circle cx="1136.7" cy="378.8" r="3.55" fill="#e5cf2b" stroke="#111" stroke-width="1.1"/>
<circle cx="1141.2" cy="378.3" r="3.55" fill="#e5cf2b" stroke="#111" stroke-width="1.1"/>
<circle cx="1145.4" cy="361.7" r="3.55" fill="#e5cf2b" stroke="#111" stroke-width="1.1"/>
<circle cx="1157.3" cy="357.3" r="3.55" fill="#e5cf2b" stroke="#111" stroke-width="1.1"/>
<circle cx="1165.0" cy="362.0" r="3.55" fill="#e5cf2b" stroke="#111" stroke-width="1.1"/>
<circle cx="1173.3" cy="359.6" r="3.55" fill="#e5cf2b" stroke="#111" stroke-width="1.1"/>
<circle cx="1177.9" cy="357.9" r="3.55" fill="#e5cf2b" stroke="#111" stroke-width="1.1"/>
<circle cx="1153.3" cy="365.0" r="3.55" fill="#e5cf2b" stroke="#111" stroke-width="1.1"/>
<circle cx="1160.8" cy="369.2" r="3.55" fill="#e5cf2b" stroke="#111" stroke-width="1.1"/>
<circle cx="1147.1" cy="371.7" r="3.55" fill="#e5cf2b" stroke="#111" stroke-width="1.1"/>
<circle cx="1155.0" cy="375.4" r="3.55" fill="#e5cf2b" stroke="#111" stroke-width="1.1"/>
<circle cx="1169.2" cy="374.2" r="3.55" fill="#e5cf2b" stroke="#111" stroke-width="1.1"/>
<circle cx="1148.8" cy="382.5" r="3.55" fill="#e5cf2b" stroke="#111" stroke-width="1.1"/>
<circle cx="1157.3" cy="383.3" r="3.55" fill="#e5cf2b" stroke="#111" stroke-width="1.1"/>
<circle cx="1165.7" cy="382.0" r="3.55" fill="#e5cf2b" stroke="#111" stroke-width="1.1"/>
<circle cx="1174.2" cy="382.0" r="3.55" fill="#e5cf2b" stroke="#111" stroke-width="1.1"/>
<circle cx="1177.9" cy="365.0" r="3.55" fill="#e5cf2b" stroke="#111" stroke-width="1.1"/>
<circle cx="1177.9" cy="369.2" r="3.55" fill="#e5cf2b" stroke="#111" stroke-width="1.1"/>
<circle cx="1177.9" cy="372.5" r="3.55" fill="#e5cf2b" stroke="#111" stroke-width="1.1"/>
<circle cx="1177.9" cy="377.5" r="3.55" fill="#e5cf2b" stroke="#111" stroke-width="1.1"/>
<circle cx="1177.9" cy="380.0" r="3.55" fill="#e5cf2b" stroke="#111" stroke-width="1.1"/>
<rect x="874.7" y="87.8" width="309.3" height="308.8" fill="none" stroke="#3a3a3a" stroke-width="1.3"/>
<line x1="865.0" y1="341.8" x2="874.7" y2="341.8" stroke="#3a3a3a" stroke-width="1.2"/>
<text x="857.8" y="347.6" font-size="16.5" text-anchor="end" textLength="19.8" lengthAdjust="spacingAndGlyphs">25</text>
<line x1="865.0" y1="287.2" x2="874.7" y2="287.2" stroke="#3a3a3a" stroke-width="1.2"/>
<text x="857.8" y="293.0" font-size="16.5" text-anchor="end" textLength="19.8" lengthAdjust="spacingAndGlyphs">50</text>
<line x1="865.0" y1="232.6" x2="874.7" y2="232.6" stroke="#3a3a3a" stroke-width="1.2"/>
<text x="857.8" y="238.4" font-size="16.5" text-anchor="end" textLength="19.8" lengthAdjust="spacingAndGlyphs">75</text>
<line x1="865.0" y1="178.0" x2="874.7" y2="178.0" stroke="#3a3a3a" stroke-width="1.2"/>
<text x="857.8" y="183.8" font-size="16.5" text-anchor="end" textLength="29.5" lengthAdjust="spacingAndGlyphs">100</text>
<line x1="865.0" y1="123.4" x2="874.7" y2="123.4" stroke="#3a3a3a" stroke-width="1.2"/>
<text x="857.8" y="129.2" font-size="16.5" text-anchor="end" textLength="29.5" lengthAdjust="spacingAndGlyphs">125</text>
<line x1="900.8" y1="396.6" x2="900.8" y2="406.7" stroke="#3a3a3a" stroke-width="1.2"/>
<line x1="952.0" y1="396.6" x2="952.0" y2="406.7" stroke="#3a3a3a" stroke-width="1.2"/>
<line x1="1003.7" y1="396.6" x2="1003.7" y2="406.7" stroke="#3a3a3a" stroke-width="1.2"/>
<line x1="1055.0" y1="396.6" x2="1055.0" y2="406.7" stroke="#3a3a3a" stroke-width="1.2"/>
<line x1="1106.0" y1="396.6" x2="1106.0" y2="406.7" stroke="#3a3a3a" stroke-width="1.2"/>
<line x1="1157.5" y1="396.6" x2="1157.5" y2="406.7" stroke="#3a3a3a" stroke-width="1.2"/>
<text x="779.0" y="430.0" font-size="20.5" textLength="93" lengthAdjust="spacingAndGlyphs">Total OD:</text>
<text x="900.8" y="430.0" font-size="18.5" text-anchor="middle" textLength="50.2" lengthAdjust="spacingAndGlyphs">0.025</text>
<text x="952.0" y="430.0" font-size="18.5" text-anchor="middle" textLength="25.0" lengthAdjust="spacingAndGlyphs">0.1</text>
<text x="1003.7" y="430.0" font-size="18.5" text-anchor="middle" textLength="11.2" lengthAdjust="spacingAndGlyphs">2</text>
<text x="1055.0" y="430.0" font-size="18.5" text-anchor="middle" textLength="50.2" lengthAdjust="spacingAndGlyphs">0.025</text>
<text x="1106.0" y="430.0" font-size="18.5" text-anchor="middle" textLength="25.0" lengthAdjust="spacingAndGlyphs">0.1</text>
<text x="1157.5" y="430.0" font-size="18.5" text-anchor="middle" textLength="11.2" lengthAdjust="spacingAndGlyphs">2</text>
<line x1="927.7" y1="440.2" x2="1017.3" y2="440.2" stroke="#e0c832" stroke-width="3.2"/>
<line x1="1092.6" y1="440.2" x2="1182.2" y2="440.2" stroke="#e0c832" stroke-width="3.2"/>
<text x="898.3" y="465.0" font-size="16.8" text-anchor="middle" textLength="47" lengthAdjust="spacingAndGlyphs">Buffer</text>
<text x="972.3" y="465.0" font-size="16.8" text-anchor="middle">EV</text>
<text x="1060.2" y="465.0" font-size="16.8" text-anchor="middle" textLength="47" lengthAdjust="spacingAndGlyphs">Buffer</text>
<text x="1133.8" y="465.0" font-size="16.8" text-anchor="middle">EV</text>
<text x="1033.3" y="496.7" font-size="20" text-anchor="middle" textLength="135" lengthAdjust="spacingAndGlyphs" stroke="#111" stroke-width="0.4">Second strain</text>
<text x="900.8" y="291.5" font-size="22" text-anchor="middle">a</text>
<text x="952.0" y="108.0" font-size="22" text-anchor="middle">b</text>
<text x="1003.7" y="333.5" font-size="22" text-anchor="middle">c</text>
<text x="1055.0" y="263.0" font-size="22" text-anchor="middle">a</text>
<text x="1106.0" y="124.5" font-size="22" text-anchor="middle">b</text>
<text x="1157.5" y="343.3" font-size="22" text-anchor="middle">c</text>
<text transform="translate(806.5,242.9) rotate(-90)" font-size="22" text-anchor="middle" textLength="229" lengthAdjust="spacingAndGlyphs">GFP fluorescence (a.u.)</text>
<text x="0.3" y="573.3" font-size="31" font-weight="bold" stroke="#000" stroke-width="1.1" fill="#000">c</text>
<text x="199.7" y="573.3" font-size="21" text-anchor="middle" textLength="79.3" lengthAdjust="spacingAndGlyphs">Fraction</text>
<text x="199.9" y="597.3" font-size="21" text-anchor="middle" textLength="198.3" lengthAdjust="spacingAndGlyphs">of transformed cells</text>
<defs><clipPath id="tc1"><rect x="0" y="0" width="88.7" height="88.3"/></clipPath></defs>
<g transform="translate(63.7,612.9)"><g clip-path="url(#tc1)">
<rect x="0" y="0" width="88.7" height="88.3" fill="#fff"/>
<circle cx="7.0" cy="4.9" r="5.3" fill="#7ed872"/>
<circle cx="31.9" cy="4.1" r="7.4" fill="#96a0fa"/>
<circle cx="61.7" cy="5.3" r="3.4" fill="#96a0fa"/>
<circle cx="80.1" cy="9.0" r="5.1" fill="#7ed872"/>
<circle cx="23.3" cy="21.3" r="5.3" fill="#96a0fa"/>
<circle cx="48.7" cy="21.3" r="5.3" fill="#96a0fa"/>
<circle cx="67.0" cy="15.9" r="3.8" fill="#96a0fa"/>
<circle cx="63.8" cy="29.4" r="4.1" fill="#96a0fa"/>
<circle cx="75.6" cy="33.5" r="5.1" fill="#96a0fa"/>
<circle cx="19.6" cy="41.7" r="5.3" fill="#96a0fa"/>
<circle cx="54.0" cy="39.2" r="4.7" fill="#96a0fa"/>
<circle cx="86.3" cy="45.8" r="4.9" fill="#96a0fa"/>
<circle cx="3.7" cy="55.2" r="4.9" fill="#96a0fa"/>
<circle cx="43.7" cy="55.2" r="7.8" fill="#7ed872"/>
<circle cx="72.8" cy="58.1" r="5.3" fill="#96a0fa"/>
<circle cx="20.4" cy="63.4" r="5.3" fill="#96a0fa"/>
<circle cx="30.3" cy="76.9" r="4.9" fill="#96a0fa"/>
<circle cx="48.7" cy="80.9" r="5.3" fill="#96a0fa"/>
<circle cx="66.2" cy="76.9" r="5.3" fill="#7ed872"/>
<circle cx="87.1" cy="84.2" r="4.5" fill="#96a0fa"/>
<path d="M17.5,7.7L17.1,-1M17.5,7.7L5.1,21.7M5.1,21.7L-1,21.7M5.1,21.7L9.1,26.5M17.5,7.7L38.3,16.5M38.3,16.5L44.3,10.3M44.3,10.3L43.5,-1M44.3,10.3L56.2,-1M44.3,10.3L57.1,13.7M57.1,13.7L72.3,4.5M72.3,4.5L72.7,-1M72.3,4.5L73.9,22.5M57.1,13.7L59.1,21.7M59.1,21.7L71.1,22.4M71.1,22.4L73.9,22.5M73.9,22.5L79.1,22.9M79.1,22.9L90,10.5M79.1,22.9L82.3,26.9M82.3,26.9L90,25.3M82.3,26.9L83.1,35.7M83.1,35.7L90,36.5M83.1,35.7L66.8,45.0M71.1,22.4L66.8,45.0M66.8,45.0L71.1,46.1M71.1,46.1L90,56.5M66.8,45.0L59.9,52.5M59.9,52.5L59.1,61.3M59.1,61.3L52.3,66.1M52.3,66.1L41.1,67.3M52.3,66.1L59.5,90M59.1,61.3L78.3,70.1M78.3,70.1L78.3,90M78.3,70.1L82.7,68.1M82.7,68.1L90,70.3M82.7,68.1L87.6,56.2M38.3,16.5L36.9,28.5M36.9,28.5L58.3,32.1M58.3,32.1L59.1,21.7M58.3,32.1L66.8,45.0M36.9,28.5L33.5,34.1M33.5,34.1L26.7,50.9M33.5,34.1L59.9,52.5M9.1,26.5L33.5,34.1M26.7,50.9L15.1,52.1M15.1,52.1L9.1,46.3M9.1,46.3L9.1,26.5M9.1,46.3L-1,46.2M26.7,50.9L36.7,64.5M36.7,64.5L41.1,67.3M36.7,64.5L13.9,75.3M15.1,52.1L6.7,68.1M6.7,68.1L-1,64.8M6.7,68.1L13.9,75.3M6.7,68.1L3.0,90M6.7,68.1L-1,74.8M13.9,75.3L19.9,83.3M19.9,83.3L36.7,82.9M19.9,83.3L19.1,90M41.1,67.3L36.7,82.9M36.7,82.9L42.6,90" stroke="#b0b0b0" stroke-width="2.3" fill="none" stroke-linecap="round" stroke-linejoin="round"/>
</g>
<rect x="0" y="0" width="88.7" height="88.3" fill="none" stroke="#111" stroke-width="1.5"/>
</g>
<defs><clipPath id="tc2"><rect x="0" y="0" width="88.7" height="88.3"/></clipPath></defs>
<g transform="translate(246.9,612.7)"><g clip-path="url(#tc2)">
<rect x="0" y="0" width="88.7" height="88.3" fill="#fff"/>
<circle cx="7.0" cy="4.9" r="5.3" fill="#7ed872"/>
<circle cx="31.9" cy="4.1" r="7.4" fill="#96a0fa"/>
<circle cx="61.7" cy="5.3" r="3.4" fill="#96a0fa"/>
<circle cx="80.1" cy="9.0" r="5.1" fill="#7ed872"/>
<circle cx="23.3" cy="21.3" r="5.3" fill="#96a0fa"/>
<circle cx="48.7" cy="21.3" r="5.3" fill="#7ed872"/>
<circle cx="67.0" cy="15.9" r="3.8" fill="#7ed872"/>
<circle cx="63.8" cy="29.4" r="4.1" fill="#7ed872"/>
<circle cx="75.6" cy="33.5" r="5.1" fill="#7ed872"/>
<circle cx="19.6" cy="41.7" r="5.3" fill="#7ed872"/>
<circle cx="54.0" cy="39.2" r="4.7" fill="#96a0fa"/>
<circle cx="86.3" cy="45.8" r="4.9" fill="#96a0fa"/>
<circle cx="3.7" cy="55.2" r="4.9" fill="#7ed872"/>
<circle cx="43.7" cy="55.2" r="7.8" fill="#7ed872"/>
<circle cx="72.8" cy="58.1" r="5.3" fill="#7ed872"/>
<circle cx="20.4" cy="63.4" r="5.3" fill="#96a0fa"/>
<circle cx="30.3" cy="76.9" r="4.9" fill="#7ed872"/>
<circle cx="48.7" cy="80.9" r="5.3" fill="#96a0fa"/>
<circle cx="66.2" cy="76.9" r="5.3" fill="#7ed872"/>
<circle cx="87.1" cy="84.2" r="4.5" fill="#7ed872"/>
<path d="M17.5,7.7L17.1,-1M17.5,7.7L5.1,21.7M5.1,21.7L-1,21.7M5.1,21.7L9.1,26.5M17.5,7.7L38.3,16.5M38.3,16.5L44.3,10.3M44.3,10.3L43.5,-1M44.3,10.3L56.2,-1M44.3,10.3L57.1,13.7M57.1,13.7L72.3,4.5M72.3,4.5L72.7,-1M72.3,4.5L73.9,22.5M57.1,13.7L59.1,21.7M59.1,21.7L71.1,22.4M71.1,22.4L73.9,22.5M73.9,22.5L79.1,22.9M79.1,22.9L90,10.5M79.1,22.9L82.3,26.9M82.3,26.9L90,25.3M82.3,26.9L83.1,35.7M83.1,35.7L90,36.5M83.1,35.7L66.8,45.0M71.1,22.4L66.8,45.0M66.8,45.0L71.1,46.1M71.1,46.1L90,56.5M66.8,45.0L59.9,52.5M59.9,52.5L59.1,61.3M59.1,61.3L52.3,66.1M52.3,66.1L41.1,67.3M52.3,66.1L59.5,90M59.1,61.3L78.3,70.1M78.3,70.1L78.3,90M78.3,70.1L82.7,68.1M82.7,68.1L90,70.3M82.7,68.1L87.6,56.2M38.3,16.5L36.9,28.5M36.9,28.5L58.3,32.1M58.3,32.1L59.1,21.7M58.3,32.1L66.8,45.0M36.9,28.5L33.5,34.1M33.5,34.1L26.7,50.9M33.5,34.1L59.9,52.5M9.1,26.5L33.5,34.1M26.7,50.9L15.1,52.1M15.1,52.1L9.1,46.3M9.1,46.3L9.1,26.5M9.1,46.3L-1,46.2M26.7,50.9L36.7,64.5M36.7,64.5L41.1,67.3M36.7,64.5L13.9,75.3M15.1,52.1L6.7,68.1M6.7,68.1L-1,64.8M6.7,68.1L13.9,75.3M6.7,68.1L3.0,90M6.7,68.1L-1,74.8M13.9,75.3L19.9,83.3M19.9,83.3L36.7,82.9M19.9,83.3L19.1,90M41.1,67.3L36.7,82.9M36.7,82.9L42.6,90" stroke="#b0b0b0" stroke-width="2.3" fill="none" stroke-linecap="round" stroke-linejoin="round"/>
</g>
<rect x="0" y="0" width="88.7" height="88.3" fill="none" stroke="#111" stroke-width="1.5"/>
</g>
<line x1="173.3" y1="649.0" x2="218.0" y2="649.0" stroke="#3f4d68" stroke-width="2.6"/>
<path d="M213.5,643.7 L226,649 L213.5,654.3 L216.5,649 Z" fill="#3f4d68"/>
<line x1="129.5" y1="802.0" x2="129.5" y2="837.7" stroke="#6e6e6e" stroke-width="1.3"/>
<line x1="119.7" y1="802.0" x2="139.3" y2="802.0" stroke="#6e6e6e" stroke-width="1.3"/>
<line x1="129.5" y1="868.5" x2="129.5" y2="909.0" stroke="#6e6e6e" stroke-width="1.3"/>
<line x1="119.7" y1="909.0" x2="139.3" y2="909.0" stroke="#6e6e6e" stroke-width="1.3"/>
<rect x="109.2" y="837.7" width="40.6" height="30.8" fill="#c6dff1" stroke="#808080" stroke-width="1.1"/>
<line x1="109.2" y1="843.1" x2="149.8" y2="843.1" stroke="#7a7a7a" stroke-width="1.2"/>
<line x1="179.2" y1="762.7" x2="179.2" y2="772.2" stroke="#6e6e6e" stroke-width="1.3"/>
<line x1="169.4" y1="762.7" x2="189.1" y2="762.7" stroke="#6e6e6e" stroke-width="1.3"/>
<line x1="179.2" y1="844.4" x2="179.2" y2="930.5" stroke="#6e6e6e" stroke-width="1.3"/>
<line x1="169.4" y1="930.5" x2="189.1" y2="930.5" stroke="#6e6e6e" stroke-width="1.3"/>
<rect x="159.0" y="772.2" width="40.5" height="72.2" fill="#efecd6" stroke="#808080" stroke-width="1.1"/>
<line x1="159.0" y1="790.2" x2="199.5" y2="790.2" stroke="#7a7a7a" stroke-width="1.2"/>
<line x1="229.6" y1="922.8" x2="229.6" y2="956.4" stroke="#6e6e6e" stroke-width="1.3"/>
<line x1="219.0" y1="922.8" x2="240.2" y2="922.8" stroke="#6e6e6e" stroke-width="1.3"/>
<line x1="229.6" y1="993.4" x2="229.6" y2="1024.4" stroke="#6e6e6e" stroke-width="1.3"/>
<line x1="219.0" y1="1024.4" x2="240.2" y2="1024.4" stroke="#6e6e6e" stroke-width="1.3"/>
<rect x="209.0" y="956.4" width="41.2" height="37.0" fill="#e8d65c" stroke="#808080" stroke-width="1.1"/>
<line x1="209.0" y1="988.0" x2="250.2" y2="988.0" stroke="#7a7a7a" stroke-width="1.2"/>
<line x1="279.9" y1="840.3" x2="279.9" y2="876.4" stroke="#6e6e6e" stroke-width="1.3"/>
<line x1="269.8" y1="840.3" x2="290.1" y2="840.3" stroke="#6e6e6e" stroke-width="1.3"/>
<line x1="279.9" y1="911.5" x2="279.9" y2="945.7" stroke="#6e6e6e" stroke-width="1.3"/>
<line x1="269.8" y1="945.7" x2="290.1" y2="945.7" stroke="#6e6e6e" stroke-width="1.3"/>
<rect x="259.7" y="876.4" width="40.5" height="35.1" fill="#e6cbe6" stroke="#808080" stroke-width="1.1"/>
<line x1="259.7" y1="891.3" x2="300.2" y2="891.3" stroke="#7a7a7a" stroke-width="1.2"/>
<line x1="330.3" y1="1002.9" x2="330.3" y2="1021.3" stroke="#6e6e6e" stroke-width="1.3"/>
<line x1="320.1" y1="1002.9" x2="340.5" y2="1002.9" stroke="#6e6e6e" stroke-width="1.3"/>
<line x1="330.3" y1="1034.6" x2="330.3" y2="1040.9" stroke="#6e6e6e" stroke-width="1.3"/>
<line x1="320.1" y1="1040.9" x2="340.5" y2="1040.9" stroke="#6e6e6e" stroke-width="1.3"/>
<rect x="309.7" y="1021.3" width="41.2" height="13.3" fill="#cc7ad8" stroke="#808080" stroke-width="1.1"/>
<line x1="309.7" y1="1022.5" x2="350.9" y2="1022.5" stroke="#7a7a7a" stroke-width="1.2"/>
<circle cx="129.2" cy="777.9" r="3.6" fill="#88cbf7" stroke="#111" stroke-width="1"/>
<circle cx="129.2" cy="802.0" r="3.6" fill="#88cbf7" stroke="#111" stroke-width="1"/>
<circle cx="116.5" cy="840.0" r="3.6" fill="#88cbf7" stroke="#111" stroke-width="1"/>
<circle cx="129.2" cy="843.4" r="3.6" fill="#88cbf7" stroke="#111" stroke-width="1"/>
<circle cx="142.5" cy="837.7" r="3.6" fill="#88cbf7" stroke="#111" stroke-width="1"/>
<circle cx="116.5" cy="867.2" r="3.6" fill="#88cbf7" stroke="#111" stroke-width="1"/>
<circle cx="129.2" cy="868.8" r="3.6" fill="#88cbf7" stroke="#111" stroke-width="1"/>
<circle cx="117.2" cy="909.0" r="3.6" fill="#88cbf7" stroke="#111" stroke-width="1"/>
<circle cx="129.2" cy="914.7" r="3.6" fill="#88cbf7" stroke="#111" stroke-width="1"/>
<circle cx="169.4" cy="762.4" r="3.6" fill="#f1e9bb" stroke="#111" stroke-width="1"/>
<circle cx="179.9" cy="772.2" r="3.6" fill="#f1e9bb" stroke="#111" stroke-width="1"/>
<circle cx="193.8" cy="769.0" r="3.6" fill="#f1e9bb" stroke="#111" stroke-width="1"/>
<circle cx="168.5" cy="779.8" r="3.6" fill="#f1e9bb" stroke="#111" stroke-width="1"/>
<circle cx="179.2" cy="790.2" r="3.6" fill="#f1e9bb" stroke="#111" stroke-width="1"/>
<circle cx="179.2" cy="810.2" r="3.6" fill="#f1e9bb" stroke="#111" stroke-width="1"/>
<circle cx="179.2" cy="844.4" r="3.6" fill="#f1e9bb" stroke="#111" stroke-width="1"/>
<circle cx="179.2" cy="869.4" r="3.6" fill="#f1e9bb" stroke="#111" stroke-width="1"/>
<circle cx="179.2" cy="930.5" r="3.6" fill="#f1e9bb" stroke="#111" stroke-width="1"/>
<circle cx="216.3" cy="951.6" r="3.6" fill="#e5cf2b" stroke="#111" stroke-width="1"/>
<circle cx="229.6" cy="956.4" r="3.6" fill="#e5cf2b" stroke="#111" stroke-width="1"/>
<circle cx="229.6" cy="975.0" r="3.6" fill="#e5cf2b" stroke="#111" stroke-width="1"/>
<circle cx="209.0" cy="988.0" r="3.6" fill="#e5cf2b" stroke="#111" stroke-width="1"/>
<circle cx="216.3" cy="993.4" r="3.6" fill="#e5cf2b" stroke="#111" stroke-width="1"/>
<circle cx="229.6" cy="995.0" r="3.6" fill="#e5cf2b" stroke="#111" stroke-width="1"/>
<circle cx="243.2" cy="992.8" r="3.6" fill="#e5cf2b" stroke="#111" stroke-width="1"/>
<circle cx="229.6" cy="922.8" r="3.6" fill="#e5cf2b" stroke="#111" stroke-width="1"/>
<circle cx="229.6" cy="1024.4" r="3.6" fill="#e5cf2b" stroke="#111" stroke-width="1"/>
<circle cx="279.6" cy="800.0" r="3.6" fill="#e6bce6" stroke="#111" stroke-width="1"/>
<circle cx="279.6" cy="840.3" r="3.6" fill="#e6bce6" stroke="#111" stroke-width="1"/>
<circle cx="268.5" cy="882.1" r="3.6" fill="#e6bce6" stroke="#111" stroke-width="1"/>
<circle cx="285.0" cy="876.1" r="3.6" fill="#e6bce6" stroke="#111" stroke-width="1"/>
<circle cx="279.6" cy="891.3" r="3.6" fill="#e6bce6" stroke="#111" stroke-width="1"/>
<circle cx="266.6" cy="911.5" r="3.6" fill="#e6bce6" stroke="#111" stroke-width="1"/>
<circle cx="279.6" cy="913.1" r="3.6" fill="#e6bce6" stroke="#111" stroke-width="1"/>
<circle cx="293.5" cy="910.3" r="3.6" fill="#e6bce6" stroke="#111" stroke-width="1"/>
<circle cx="279.6" cy="945.7" r="3.6" fill="#e6bce6" stroke="#111" stroke-width="1"/>
<circle cx="336.3" cy="1002.3" r="3.6" fill="#c95bd2" stroke="#111" stroke-width="1"/>
<circle cx="323.6" cy="1009.2" r="3.6" fill="#c95bd2" stroke="#111" stroke-width="1"/>
<circle cx="310.3" cy="1021.0" r="3.6" fill="#c95bd2" stroke="#111" stroke-width="1"/>
<circle cx="330.3" cy="1023.5" r="3.6" fill="#c95bd2" stroke="#111" stroke-width="1"/>
<circle cx="350.2" cy="1022.9" r="3.6" fill="#c95bd2" stroke="#111" stroke-width="1"/>
<circle cx="310.3" cy="1026.7" r="3.6" fill="#c95bd2" stroke="#111" stroke-width="1"/>
<circle cx="342.9" cy="1034.6" r="3.6" fill="#c95bd2" stroke="#111" stroke-width="1"/>
<circle cx="316.7" cy="1039.3" r="3.6" fill="#c95bd2" stroke="#111" stroke-width="1"/>
<circle cx="330.3" cy="1040.3" r="3.6" fill="#c95bd2" stroke="#111" stroke-width="1"/>
<rect x="104.5" y="730.7" width="252.7" height="323.8" fill="none" stroke="#3a3a3a" stroke-width="1.3"/>
<line x1="96.0" y1="1046.3" x2="104.5" y2="1046.3" stroke="#3a3a3a" stroke-width="1.2"/>
<text x="88.3" y="1051.9" font-size="16.5" text-anchor="end" textLength="11.5" lengthAdjust="spacingAndGlyphs">0</text>
<line x1="96.0" y1="982.7" x2="104.5" y2="982.7" stroke="#3a3a3a" stroke-width="1.2"/>
<text x="88.3" y="988.3" font-size="16.5" text-anchor="end" textLength="28" lengthAdjust="spacingAndGlyphs">0.2</text>
<line x1="96.0" y1="919.1" x2="104.5" y2="919.1" stroke="#3a3a3a" stroke-width="1.2"/>
<text x="88.3" y="924.7" font-size="16.5" text-anchor="end" textLength="28" lengthAdjust="spacingAndGlyphs">0.4</text>
<line x1="96.0" y1="855.5" x2="104.5" y2="855.5" stroke="#3a3a3a" stroke-width="1.2"/>
<text x="88.3" y="861.1" font-size="16.5" text-anchor="end" textLength="28" lengthAdjust="spacingAndGlyphs">0.6</text>
<line x1="96.0" y1="791.9" x2="104.5" y2="791.9" stroke="#3a3a3a" stroke-width="1.2"/>
<text x="88.3" y="797.5" font-size="16.5" text-anchor="end" textLength="28" lengthAdjust="spacingAndGlyphs">0.8</text>
<line x1="129.8" y1="1054.5" x2="129.8" y2="1064.0" stroke="#3a3a3a" stroke-width="1.2"/>
<line x1="179.9" y1="1054.5" x2="179.9" y2="1064.0" stroke="#3a3a3a" stroke-width="1.2"/>
<line x1="230.2" y1="1054.5" x2="230.2" y2="1064.0" stroke="#3a3a3a" stroke-width="1.2"/>
<line x1="280.6" y1="1054.5" x2="280.6" y2="1064.0" stroke="#3a3a3a" stroke-width="1.2"/>
<line x1="330.9" y1="1054.5" x2="330.9" y2="1064.0" stroke="#3a3a3a" stroke-width="1.2"/>
<text x="129.8" y="763.3" font-size="22" text-anchor="middle">a</text>
<text x="179.2" y="754.5" font-size="22" text-anchor="middle">a</text>
<text x="229.6" y="909.0" font-size="22" text-anchor="middle">b</text>
<text x="279.6" y="784.9" font-size="22" text-anchor="middle">a</text>
<text x="330.9" y="990.9" font-size="22" text-anchor="middle">c</text>
<text x="6.3" y="1086.8" font-size="20.5" textLength="93" lengthAdjust="spacingAndGlyphs">Total OD:</text>
<text x="129.8" y="1086.8" font-size="18.5" text-anchor="middle" textLength="50.2" lengthAdjust="spacingAndGlyphs">0.025</text>
<text x="179.9" y="1086.8" font-size="18.5" text-anchor="middle" textLength="25.0" lengthAdjust="spacingAndGlyphs">0.1</text>
<text x="230.2" y="1086.8" font-size="18.5" text-anchor="middle" textLength="11.2" lengthAdjust="spacingAndGlyphs">2</text>
<text x="280.6" y="1086.8" font-size="18.5" text-anchor="middle" textLength="25.0" lengthAdjust="spacingAndGlyphs">0.1</text>
<text x="330.9" y="1086.8" font-size="18.5" text-anchor="middle" textLength="11.2" lengthAdjust="spacingAndGlyphs">2</text>
<line x1="156.1" y1="1100.1" x2="250.2" y2="1100.1" stroke="#e0c832" stroke-width="3.2"/>
<line x1="255.9" y1="1100.1" x2="356.9" y2="1100.1" stroke="#c23fd6" stroke-width="3.2"/>
<text x="130.8" y="1124.8" font-size="16.8" text-anchor="middle" textLength="47" lengthAdjust="spacingAndGlyphs">Buffer</text>
<text x="201.0" y="1124.8" font-size="16.8" text-anchor="middle">EV</text>
<text x="305.6" y="1124.8" font-size="16.8" text-anchor="middle">C58C1</text>
<text x="230.3" y="1155.9" font-size="21" text-anchor="middle" textLength="135.9" lengthAdjust="spacingAndGlyphs">Second strain</text>
<text transform="translate(20.0,891.9) rotate(-90)" font-size="21" text-anchor="middle" textLength="78.8" lengthAdjust="spacingAndGlyphs">Fraction</text>
<text transform="translate(45.0,892.5) rotate(-90)" font-size="21" text-anchor="middle" textLength="197.5" lengthAdjust="spacingAndGlyphs">of cells transformed</text>
<text x="394.3" y="573.5" font-size="31" font-weight="bold" stroke="#000" stroke-width="1.1" fill="#000">d</text>
<text x="603.3" y="573.3" font-size="21" text-anchor="middle" textLength="128" lengthAdjust="spacingAndGlyphs">GFP intensity</text>
<text x="604.0" y="597.3" font-size="21" text-anchor="middle" textLength="196.6" lengthAdjust="spacingAndGlyphs">in transformed cells</text>
<defs><clipPath id="tc3"><rect x="0" y="0" width="88.7" height="88.3"/></clipPath></defs>
<g transform="translate(467.4,615)"><g clip-path="url(#tc3)">
<rect x="0" y="0" width="88.7" height="88.3" fill="#fff"/>
<circle cx="7.0" cy="4.9" r="5.3" fill="#ade6a0"/>
<circle cx="31.9" cy="4.1" r="7.4" fill="#96a0fa"/>
<circle cx="61.7" cy="5.3" r="3.4" fill="#96a0fa"/>
<circle cx="80.1" cy="9.0" r="5.1" fill="#ade6a0"/>
<circle cx="23.3" cy="21.3" r="5.3" fill="#96a0fa"/>
<circle cx="48.7" cy="21.3" r="5.3" fill="#ade6a0"/>
<circle cx="67.0" cy="15.9" r="3.8" fill="#ade6a0"/>
<circle cx="63.8" cy="29.4" r="4.1" fill="#ade6a0"/>
<circle cx="75.6" cy="33.5" r="5.1" fill="#ade6a0"/>
<circle cx="19.6" cy="41.7" r="5.3" fill="#ade6a0"/>
<circle cx="54.0" cy="39.2" r="4.7" fill="#96a0fa"/>
<circle cx="86.3" cy="45.8" r="4.9" fill="#96a0fa"/>
<circle cx="3.7" cy="55.2" r="4.9" fill="#ade6a0"/>
<circle cx="43.7" cy="55.2" r="7.8" fill="#ade6a0"/>
<circle cx="72.8" cy="58.1" r="5.3" fill="#ade6a0"/>
<circle cx="20.4" cy="63.4" r="5.3" fill="#96a0fa"/>
<circle cx="30.3" cy="76.9" r="4.9" fill="#ade6a0"/>
<circle cx="48.7" cy="80.9" r="5.3" fill="#96a0fa"/>
<circle cx="66.2" cy="76.9" r="5.3" fill="#ade6a0"/>
<circle cx="87.1" cy="84.2" r="4.5" fill="#ade6a0"/>
<path d="M17.5,7.7L17.1,-1M17.5,7.7L5.1,21.7M5.1,21.7L-1,21.7M5.1,21.7L9.1,26.5M17.5,7.7L38.3,16.5M38.3,16.5L44.3,10.3M44.3,10.3L43.5,-1M44.3,10.3L56.2,-1M44.3,10.3L57.1,13.7M57.1,13.7L72.3,4.5M72.3,4.5L72.7,-1M72.3,4.5L73.9,22.5M57.1,13.7L59.1,21.7M59.1,21.7L71.1,22.4M71.1,22.4L73.9,22.5M73.9,22.5L79.1,22.9M79.1,22.9L90,10.5M79.1,22.9L82.3,26.9M82.3,26.9L90,25.3M82.3,26.9L83.1,35.7M83.1,35.7L90,36.5M83.1,35.7L66.8,45.0M71.1,22.4L66.8,45.0M66.8,45.0L71.1,46.1M71.1,46.1L90,56.5M66.8,45.0L59.9,52.5M59.9,52.5L59.1,61.3M59.1,61.3L52.3,66.1M52.3,66.1L41.1,67.3M52.3,66.1L59.5,90M59.1,61.3L78.3,70.1M78.3,70.1L78.3,90M78.3,70.1L82.7,68.1M82.7,68.1L90,70.3M82.7,68.1L87.6,56.2M38.3,16.5L36.9,28.5M36.9,28.5L58.3,32.1M58.3,32.1L59.1,21.7M58.3,32.1L66.8,45.0M36.9,28.5L33.5,34.1M33.5,34.1L26.7,50.9M33.5,34.1L59.9,52.5M9.1,26.5L33.5,34.1M26.7,50.9L15.1,52.1M15.1,52.1L9.1,46.3M9.1,46.3L9.1,26.5M9.1,46.3L-1,46.2M26.7,50.9L36.7,64.5M36.7,64.5L41.1,67.3M36.7,64.5L13.9,75.3M15.1,52.1L6.7,68.1M6.7,68.1L-1,64.8M6.7,68.1L13.9,75.3M6.7,68.1L3.0,90M6.7,68.1L-1,74.8M13.9,75.3L19.9,83.3M19.9,83.3L36.7,82.9M19.9,83.3L19.1,90M41.1,67.3L36.7,82.9M36.7,82.9L42.6,90" stroke="#b0b0b0" stroke-width="2.3" fill="none" stroke-linecap="round" stroke-linejoin="round"/>
</g>
<rect x="0" y="0" width="88.7" height="88.3" fill="none" stroke="#111" stroke-width="1.5"/>
</g>
<defs><clipPath id="tc4"><rect x="0" y="0" width="88.7" height="88.3"/></clipPath></defs>
<g transform="translate(651.2,615.2)"><g clip-path="url(#tc4)">
<rect x="0" y="0" width="88.7" height="88.3" fill="#fff"/>
<circle cx="7.0" cy="4.9" r="5.3" fill="#00a300"/>
<circle cx="31.9" cy="4.1" r="7.4" fill="#96a0fa"/>
<circle cx="61.7" cy="5.3" r="3.4" fill="#96a0fa"/>
<circle cx="80.1" cy="9.0" r="5.1" fill="#00a300"/>
<circle cx="23.3" cy="21.3" r="5.3" fill="#96a0fa"/>
<circle cx="48.7" cy="21.3" r="5.3" fill="#00a300"/>
<circle cx="67.0" cy="15.9" r="3.8" fill="#00a300"/>
<circle cx="63.8" cy="29.4" r="4.1" fill="#00a300"/>
<circle cx="75.6" cy="33.5" r="5.1" fill="#00a300"/>
<circle cx="19.6" cy="41.7" r="5.3" fill="#00a300"/>
<circle cx="54.0" cy="39.2" r="4.7" fill="#96a0fa"/>
<circle cx="86.3" cy="45.8" r="4.9" fill="#96a0fa"/>
<circle cx="3.7" cy="55.2" r="4.9" fill="#00a300"/>
<circle cx="43.7" cy="55.2" r="7.8" fill="#00a300"/>
<circle cx="72.8" cy="58.1" r="5.3" fill="#00a300"/>
<circle cx="20.4" cy="63.4" r="5.3" fill="#96a0fa"/>
<circle cx="30.3" cy="76.9" r="4.9" fill="#00a300"/>
<circle cx="48.7" cy="80.9" r="5.3" fill="#96a0fa"/>
<circle cx="66.2" cy="76.9" r="5.3" fill="#00a300"/>
<circle cx="87.1" cy="84.2" r="4.5" fill="#00a300"/>
<path d="M17.5,7.7L17.1,-1M17.5,7.7L5.1,21.7M5.1,21.7L-1,21.7M5.1,21.7L9.1,26.5M17.5,7.7L38.3,16.5M38.3,16.5L44.3,10.3M44.3,10.3L43.5,-1M44.3,10.3L56.2,-1M44.3,10.3L57.1,13.7M57.1,13.7L72.3,4.5M72.3,4.5L72.7,-1M72.3,4.5L73.9,22.5M57.1,13.7L59.1,21.7M59.1,21.7L71.1,22.4M71.1,22.4L73.9,22.5M73.9,22.5L79.1,22.9M79.1,22.9L90,10.5M79.1,22.9L82.3,26.9M82.3,26.9L90,25.3M82.3,26.9L83.1,35.7M83.1,35.7L90,36.5M83.1,35.7L66.8,45.0M71.1,22.4L66.8,45.0M66.8,45.0L71.1,46.1M71.1,46.1L90,56.5M66.8,45.0L59.9,52.5M59.9,52.5L59.1,61.3M59.1,61.3L52.3,66.1M52.3,66.1L41.1,67.3M52.3,66.1L59.5,90M59.1,61.3L78.3,70.1M78.3,70.1L78.3,90M78.3,70.1L82.7,68.1M82.7,68.1L90,70.3M82.7,68.1L87.6,56.2M38.3,16.5L36.9,28.5M36.9,28.5L58.3,32.1M58.3,32.1L59.1,21.7M58.3,32.1L66.8,45.0M36.9,28.5L33.5,34.1M33.5,34.1L26.7,50.9M33.5,34.1L59.9,52.5M9.1,26.5L33.5,34.1M26.7,50.9L15.1,52.1M15.1,52.1L9.1,46.3M9.1,46.3L9.1,26.5M9.1,46.3L-1,46.2M26.7,50.9L36.7,64.5M36.7,64.5L41.1,67.3M36.7,64.5L13.9,75.3M15.1,52.1L6.7,68.1M6.7,68.1L-1,64.8M6.7,68.1L13.9,75.3M6.7,68.1L3.0,90M6.7,68.1L-1,74.8M13.9,75.3L19.9,83.3M19.9,83.3L36.7,82.9M19.9,83.3L19.1,90M41.1,67.3L36.7,82.9M36.7,82.9L42.6,90" stroke="#b0b0b0" stroke-width="2.3" fill="none" stroke-linecap="round" stroke-linejoin="round"/>
</g>
<rect x="0" y="0" width="88.7" height="88.3" fill="none" stroke="#111" stroke-width="1.5"/>
</g>
<line x1="577.7" y1="652.7" x2="622.0" y2="652.7" stroke="#3f4d68" stroke-width="2.6"/>
<path d="M617.5,647.4000000000001 L630,652.7 L617.5,658.0 L620.5,652.7 Z" fill="#3f4d68"/>
<line x1="520.2" y1="905.2" x2="520.2" y2="920.2" stroke="#6e6e6e" stroke-width="1.3"/>
<line x1="510.7" y1="905.2" x2="529.7" y2="905.2" stroke="#6e6e6e" stroke-width="1.3"/>
<line x1="520.2" y1="980.3" x2="520.2" y2="1033.9" stroke="#6e6e6e" stroke-width="1.3"/>
<line x1="510.7" y1="1033.9" x2="529.7" y2="1033.9" stroke="#6e6e6e" stroke-width="1.3"/>
<rect x="500.2" y="920.2" width="40.0" height="60.1" fill="#c6dff1" stroke="#808080" stroke-width="1.1"/>
<line x1="500.2" y1="931.5" x2="540.2" y2="931.5" stroke="#7a7a7a" stroke-width="1.2"/>
<line x1="570.0" y1="762.2" x2="570.0" y2="806.1" stroke="#6e6e6e" stroke-width="1.3"/>
<line x1="559.8" y1="762.2" x2="580.2" y2="762.2" stroke="#6e6e6e" stroke-width="1.3"/>
<line x1="570.0" y1="912.4" x2="570.0" y2="986.1" stroke="#6e6e6e" stroke-width="1.3"/>
<line x1="559.8" y1="986.1" x2="580.2" y2="986.1" stroke="#6e6e6e" stroke-width="1.3"/>
<rect x="549.6" y="806.1" width="40.7" height="106.3" fill="#efecd6" stroke="#808080" stroke-width="1.1"/>
<line x1="549.6" y1="840.9" x2="590.3" y2="840.9" stroke="#7a7a7a" stroke-width="1.2"/>
<line x1="620.6" y1="790.5" x2="620.6" y2="829.5" stroke="#6e6e6e" stroke-width="1.3"/>
<line x1="610.9" y1="790.5" x2="630.4" y2="790.5" stroke="#6e6e6e" stroke-width="1.3"/>
<line x1="620.6" y1="914.0" x2="620.6" y2="972.1" stroke="#6e6e6e" stroke-width="1.3"/>
<line x1="610.9" y1="972.1" x2="630.4" y2="972.1" stroke="#6e6e6e" stroke-width="1.3"/>
<rect x="600.3" y="829.5" width="40.7" height="84.5" fill="#e8d65c" stroke="#808080" stroke-width="1.1"/>
<line x1="600.3" y1="836.0" x2="641.0" y2="836.0" stroke="#7a7a7a" stroke-width="1.2"/>
<line x1="671.3" y1="954.3" x2="671.3" y2="973.1" stroke="#6e6e6e" stroke-width="1.3"/>
<line x1="661.1" y1="954.3" x2="681.5" y2="954.3" stroke="#6e6e6e" stroke-width="1.3"/>
<line x1="671.3" y1="1002.4" x2="671.3" y2="1040.7" stroke="#6e6e6e" stroke-width="1.3"/>
<line x1="661.1" y1="1040.7" x2="681.5" y2="1040.7" stroke="#6e6e6e" stroke-width="1.3"/>
<rect x="651.4" y="973.1" width="39.9" height="29.3" fill="#e6cbe6" stroke="#808080" stroke-width="1.1"/>
<line x1="651.4" y1="993.6" x2="691.3" y2="993.6" stroke="#7a7a7a" stroke-width="1.2"/>
<line x1="721.5" y1="939.0" x2="721.5" y2="948.1" stroke="#6e6e6e" stroke-width="1.3"/>
<line x1="710.9" y1="939.0" x2="732.1" y2="939.0" stroke="#6e6e6e" stroke-width="1.3"/>
<rect x="701.7" y="948.1" width="39.7" height="76.0" fill="#cc7ad8" stroke="#808080" stroke-width="1.1"/>
<line x1="701.7" y1="1009.5" x2="741.4" y2="1009.5" stroke="#7a7a7a" stroke-width="1.2"/>
<circle cx="506.7" cy="905.2" r="3.6" fill="#88cbf7" stroke="#111" stroke-width="1"/>
<circle cx="520.4" cy="905.9" r="3.6" fill="#88cbf7" stroke="#111" stroke-width="1"/>
<circle cx="509.3" cy="921.5" r="3.6" fill="#88cbf7" stroke="#111" stroke-width="1"/>
<circle cx="530.5" cy="920.5" r="3.6" fill="#88cbf7" stroke="#111" stroke-width="1"/>
<circle cx="520.4" cy="931.2" r="3.6" fill="#88cbf7" stroke="#111" stroke-width="1"/>
<circle cx="520.4" cy="948.7" r="3.6" fill="#88cbf7" stroke="#111" stroke-width="1"/>
<circle cx="520.4" cy="980.6" r="3.6" fill="#88cbf7" stroke="#111" stroke-width="1"/>
<circle cx="520.4" cy="1000.1" r="3.6" fill="#88cbf7" stroke="#111" stroke-width="1"/>
<circle cx="520.4" cy="1033.9" r="3.6" fill="#88cbf7" stroke="#111" stroke-width="1"/>
<circle cx="570.4" cy="762.2" r="3.6" fill="#f1e9bb" stroke="#111" stroke-width="1"/>
<circle cx="578.2" cy="796.4" r="3.6" fill="#f1e9bb" stroke="#111" stroke-width="1"/>
<circle cx="556.5" cy="806.1" r="3.6" fill="#f1e9bb" stroke="#111" stroke-width="1"/>
<circle cx="570.4" cy="808.7" r="3.6" fill="#f1e9bb" stroke="#111" stroke-width="1"/>
<circle cx="570.4" cy="840.9" r="3.6" fill="#f1e9bb" stroke="#111" stroke-width="1"/>
<circle cx="556.5" cy="907.8" r="3.6" fill="#f1e9bb" stroke="#111" stroke-width="1"/>
<circle cx="570.4" cy="911.7" r="3.6" fill="#f1e9bb" stroke="#111" stroke-width="1"/>
<circle cx="570.4" cy="951.0" r="3.6" fill="#f1e9bb" stroke="#111" stroke-width="1"/>
<circle cx="570.4" cy="986.1" r="3.6" fill="#f1e9bb" stroke="#111" stroke-width="1"/>
<circle cx="611.7" cy="790.5" r="3.6" fill="#e5cf2b" stroke="#111" stroke-width="1"/>
<circle cx="620.5" cy="802.9" r="3.6" fill="#e5cf2b" stroke="#111" stroke-width="1"/>
<circle cx="600.3" cy="829.5" r="3.6" fill="#e5cf2b" stroke="#111" stroke-width="1"/>
<circle cx="607.5" cy="836.0" r="3.6" fill="#e5cf2b" stroke="#111" stroke-width="1"/>
<circle cx="620.5" cy="838.0" r="3.6" fill="#e5cf2b" stroke="#111" stroke-width="1"/>
<circle cx="632.8" cy="831.5" r="3.6" fill="#e5cf2b" stroke="#111" stroke-width="1"/>
<circle cx="614.0" cy="913.6" r="3.6" fill="#e5cf2b" stroke="#111" stroke-width="1"/>
<circle cx="620.5" cy="928.3" r="3.6" fill="#e5cf2b" stroke="#111" stroke-width="1"/>
<circle cx="620.5" cy="972.1" r="3.6" fill="#e5cf2b" stroke="#111" stroke-width="1"/>
<circle cx="671.5" cy="924.4" r="3.6" fill="#e6bce6" stroke="#111" stroke-width="1"/>
<circle cx="671.5" cy="954.3" r="3.6" fill="#e6bce6" stroke="#111" stroke-width="1"/>
<circle cx="671.5" cy="973.1" r="3.6" fill="#e6bce6" stroke="#111" stroke-width="1"/>
<circle cx="650.7" cy="988.7" r="3.6" fill="#e6bce6" stroke="#111" stroke-width="1"/>
<circle cx="682.2" cy="993.6" r="3.6" fill="#e6bce6" stroke="#111" stroke-width="1"/>
<circle cx="657.9" cy="999.8" r="3.6" fill="#e6bce6" stroke="#111" stroke-width="1"/>
<circle cx="671.5" cy="1002.4" r="3.6" fill="#e6bce6" stroke="#111" stroke-width="1"/>
<circle cx="661.1" cy="1030.0" r="3.6" fill="#e6bce6" stroke="#111" stroke-width="1"/>
<circle cx="671.5" cy="1040.7" r="3.6" fill="#e6bce6" stroke="#111" stroke-width="1"/>
<circle cx="732.6" cy="938.3" r="3.6" fill="#c95bd2" stroke="#111" stroke-width="1"/>
<circle cx="707.6" cy="946.1" r="3.6" fill="#c95bd2" stroke="#111" stroke-width="1"/>
<circle cx="721.2" cy="948.1" r="3.6" fill="#c95bd2" stroke="#111" stroke-width="1"/>
<circle cx="726.8" cy="998.5" r="3.6" fill="#c95bd2" stroke="#111" stroke-width="1"/>
<circle cx="716.4" cy="1009.8" r="3.6" fill="#c95bd2" stroke="#111" stroke-width="1"/>
<circle cx="701.1" cy="1019.6" r="3.6" fill="#c95bd2" stroke="#111" stroke-width="1"/>
<circle cx="707.6" cy="1023.5" r="3.6" fill="#c95bd2" stroke="#111" stroke-width="1"/>
<circle cx="721.2" cy="1024.1" r="3.6" fill="#c95bd2" stroke="#111" stroke-width="1"/>
<circle cx="735.2" cy="1023.5" r="3.6" fill="#c95bd2" stroke="#111" stroke-width="1"/>
<rect x="495.4" y="730.4" width="252.5" height="324.0" fill="none" stroke="#3a3a3a" stroke-width="1.3"/>
<line x1="487.7" y1="1007.0" x2="495.4" y2="1007.0" stroke="#3a3a3a" stroke-width="1.2"/>
<text x="479.3" y="1012.6" font-size="16.5" text-anchor="end" textLength="23.8" lengthAdjust="spacingAndGlyphs">10</text>
<line x1="487.7" y1="946.0" x2="495.4" y2="946.0" stroke="#3a3a3a" stroke-width="1.2"/>
<text x="479.3" y="951.6" font-size="16.5" text-anchor="end" textLength="23.8" lengthAdjust="spacingAndGlyphs">20</text>
<line x1="487.7" y1="885.0" x2="495.4" y2="885.0" stroke="#3a3a3a" stroke-width="1.2"/>
<text x="479.3" y="890.6" font-size="16.5" text-anchor="end" textLength="23.8" lengthAdjust="spacingAndGlyphs">30</text>
<line x1="487.7" y1="824.0" x2="495.4" y2="824.0" stroke="#3a3a3a" stroke-width="1.2"/>
<text x="479.3" y="829.6" font-size="16.5" text-anchor="end" textLength="23.8" lengthAdjust="spacingAndGlyphs">40</text>
<line x1="487.7" y1="763.0" x2="495.4" y2="763.0" stroke="#3a3a3a" stroke-width="1.2"/>
<text x="479.3" y="768.6" font-size="16.5" text-anchor="end" textLength="23.8" lengthAdjust="spacingAndGlyphs">50</text>
<line x1="520.4" y1="1054.4" x2="520.4" y2="1064.0" stroke="#3a3a3a" stroke-width="1.2"/>
<line x1="570.4" y1="1054.4" x2="570.4" y2="1064.0" stroke="#3a3a3a" stroke-width="1.2"/>
<line x1="620.5" y1="1054.4" x2="620.5" y2="1064.0" stroke="#3a3a3a" stroke-width="1.2"/>
<line x1="671.5" y1="1054.4" x2="671.5" y2="1064.0" stroke="#3a3a3a" stroke-width="1.2"/>
<line x1="721.9" y1="1054.4" x2="721.9" y2="1064.0" stroke="#3a3a3a" stroke-width="1.2"/>
<text x="520.4" y="887.4" font-size="22" text-anchor="middle">a</text>
<text x="570.4" y="752.5" font-size="22" text-anchor="middle">b</text>
<text x="620.5" y="781.7" font-size="22" text-anchor="middle">b</text>
<text x="671.5" y="908.5" font-size="22" text-anchor="middle">a</text>
<text x="721.2" y="926.4" font-size="22" text-anchor="middle">a</text>
<text x="391.4" y="1086.9" font-size="20.5" textLength="93" lengthAdjust="spacingAndGlyphs">Total OD:</text>
<text x="515.3" y="1086.9" font-size="18.5" text-anchor="middle" textLength="50.2" lengthAdjust="spacingAndGlyphs">0.025</text>
<text x="570.4" y="1086.9" font-size="18.5" text-anchor="middle" textLength="25.0" lengthAdjust="spacingAndGlyphs">0.1</text>
<text x="620.5" y="1086.9" font-size="18.5" text-anchor="middle" textLength="11.2" lengthAdjust="spacingAndGlyphs">2</text>
<text x="671.5" y="1086.9" font-size="18.5" text-anchor="middle" textLength="25.0" lengthAdjust="spacingAndGlyphs">0.1</text>
<text x="721.9" y="1086.9" font-size="18.5" text-anchor="middle" textLength="11.2" lengthAdjust="spacingAndGlyphs">2</text>
<line x1="546.4" y1="1099.9" x2="640.6" y2="1099.9" stroke="#e0c832" stroke-width="3.2"/>
<line x1="646.5" y1="1099.9" x2="747.2" y2="1099.9" stroke="#c23fd6" stroke-width="3.2"/>
<text x="521.4" y="1124.9" font-size="16.8" text-anchor="middle" textLength="47" lengthAdjust="spacingAndGlyphs">Buffer</text>
<text x="591.9" y="1124.9" font-size="16.8" text-anchor="middle">EV</text>
<text x="695.2" y="1124.9" font-size="16.8" text-anchor="middle">C58C1</text>
<text x="620.5" y="1156.1" font-size="21" text-anchor="middle" textLength="135.9" lengthAdjust="spacingAndGlyphs">Second strain</text>
<text transform="translate(413.0,882.7) rotate(-90)" font-size="21" text-anchor="middle" textLength="189.3" lengthAdjust="spacingAndGlyphs">Mean fluorescence</text>
<text transform="translate(437.8,882.7) rotate(-90)" font-size="21" text-anchor="middle" textLength="253.3" lengthAdjust="spacingAndGlyphs">of transformed cells (a.u.)</text>
<text x="787.6" y="573.8" font-size="31" font-weight="bold" stroke="#000" stroke-width="1.1" fill="#000">e</text>
<text x="985.5" y="574.0" font-size="21" text-anchor="middle" textLength="122.9" lengthAdjust="spacingAndGlyphs">GFP synergy</text>
<text x="985.7" y="595.5" font-size="21" text-anchor="middle" textLength="146.9" lengthAdjust="spacingAndGlyphs">partner mutant</text>
<text x="904.4" y="649.3" font-size="21">RFP</text>
<text x="904.4" y="670.8" font-size="21" textLength="80.6" lengthAdjust="spacingAndGlyphs">reporter</text>
<text x="904.4" y="692.3" font-size="21">strain</text>
<text x="995.4" y="730.0" font-size="21" text-anchor="middle" textLength="141.2" lengthAdjust="spacingAndGlyphs">Wild-type GFP</text>
<text x="1001.5" y="749.7" font-size="21" text-anchor="middle" textLength="154.9" lengthAdjust="spacingAndGlyphs">synergy partner</text>
<g transform="translate(795,595) scale(0.09174311926605504)">
<path d="M130,225C149.2,204.2 216.7,187.5 250,175C283.3,162.5 305.0,156.7 330,150C355.0,143.3 376.7,140.8 400,135C423.3,129.2 450.0,120.0 470,115C490.0,110.0 501.7,105.0 520,105C538.3,105.0 560.0,109.2 580,115C600.0,120.8 616.7,128.3 640,140C663.3,151.7 691.7,170.8 720,185C748.3,199.2 786.7,209.2 810,225C833.3,240.8 840.0,254.2 860,280C880.0,305.8 910.8,350.0 930,380C949.2,410.0 964.2,433.3 975,460C985.8,486.7 990.8,516.7 995,540C999.2,563.3 1001.7,576.7 1000,600C998.3,623.3 993.3,656.7 985,680C976.7,703.3 963.3,722.5 950,740C936.7,757.5 915.8,770.0 905,785C894.2,800.0 886.7,815.8 885,830C883.3,844.2 885.8,856.7 895,870C904.2,883.3 922.5,897.5 940,910C957.5,922.5 981.7,935.0 1000,945C1018.3,955.0 1038.7,961.7 1050,970C1061.3,978.3 1068.0,988.0 1068,995C1068.0,1002.0 1061.3,1012.0 1050,1012C1038.7,1012.0 1018.3,1002.8 1000,995C981.7,987.2 960.0,975.0 940,965C920.0,955.0 900.0,939.2 880,935C860.0,930.8 840.0,935.0 820,940C800.0,945.0 780.0,955.0 760,965C740.0,975.0 720.0,987.5 700,1000C680.0,1012.5 660.0,1027.5 640,1040C620.0,1052.5 600.0,1066.7 580,1075C560.0,1083.3 541.7,1088.3 520,1090C498.3,1091.7 473.3,1090.0 450,1085C426.7,1080.0 401.7,1072.5 380,1060C358.3,1047.5 338.3,1026.7 320,1010C301.7,993.3 283.3,975.8 270,960C256.7,944.2 253.3,930.0 240,915C226.7,900.0 206.7,885.8 190,870C173.3,854.2 153.3,841.7 140,820C126.7,798.3 116.7,768.3 110,740C103.3,711.7 100.0,680.0 100,650C100.0,620.0 105.0,590.0 110,560C115.0,530.0 125.0,500.0 130,470C135.0,440.0 139.2,408.3 140,380C140.8,351.7 136.7,325.8 135,300C133.3,274.2 110.8,245.8 130,225Z" fill="#e2f1df" stroke="#1c1c1c" stroke-width="14.7" stroke-linejoin="round"/>
<path d="M1068,995C1065.0,997.8 1061.3,1012.0 1050,1012C1038.7,1012.0 1018.3,1002.8 1000,995C981.7,987.2 960.0,975.0 940,965C920.0,955.0 900.0,939.2 880,935C860.0,930.8 840.0,935.0 820,940C800.0,945.0 780.0,955.0 760,965C740.0,975.0 720.0,987.5 700,1000C680.0,1012.5 660.0,1027.5 640,1040C620.0,1052.5 600.0,1066.7 580,1075C560.0,1083.3 541.7,1088.3 520,1090C498.3,1091.7 461.7,1085.8 450,1085" fill="none" stroke="#7cc47c" stroke-width="14.7"/>
<path d="M210,290C230.0,310.0 293.3,376.7 330,410C366.7,443.3 401.7,460.0 430,490C458.3,520.0 471.7,556.7 500,590C528.3,623.3 566.7,658.3 600,690C633.3,721.7 661.7,748.3 700,780C738.3,811.7 788.3,853.3 830,880C871.7,906.7 912.5,920.5 950,940C987.5,959.5 1037.5,987.5 1055,997" fill="none" stroke="#86cc86" stroke-width="18.5" stroke-linecap="round"/>
<path d="M830,880 L950,940 L1055,997" fill="none" stroke="#86cc86" stroke-width="30.5" stroke-linecap="round"/>
<path d="M430,435C431.7,445.8 438.3,489.2 440,500" fill="none" stroke="#93d093" stroke-width="10.9" stroke-linecap="round"/>
<path d="M330,595C345.0,594.5 391.7,591.2 420,592C448.3,592.8 486.7,598.7 500,600" fill="none" stroke="#93d093" stroke-width="10.9" stroke-linecap="round"/>
<path d="M345,805C362.5,808.3 414.2,822.5 450,825C485.8,827.5 518.3,825.0 560,820C601.7,815.0 676.7,799.2 700,795" fill="none" stroke="#93d093" stroke-width="10.9" stroke-linecap="round"/>
<path d="M700,535C699.2,554.2 692.5,609.2 695,650C697.5,690.8 711.7,758.3 715,780" fill="none" stroke="#93d093" stroke-width="10.9" stroke-linecap="round"/>
<path d="M875,480C870.0,496.7 851.7,543.3 845,580C838.3,616.7 838.3,655.0 835,700C831.7,745.0 826.7,825.0 825,850" fill="none" stroke="#93d093" stroke-width="10.9" stroke-linecap="round"/>
<path d="M735,930C745.8,925.8 780.8,911.7 800,905C819.2,898.3 841.7,892.5 850,890" fill="none" stroke="#93d093" stroke-width="10.9" stroke-linecap="round"/>
<ellipse cx="545" cy="320" rx="100" ry="125" fill="none" stroke="#9a9a9a" stroke-width="16.4" stroke-dasharray="43.6 32.7"/>
</g>
<g transform="translate(1114,569.8) scale(0.0734)">
<path d="M130,225C149.2,204.2 216.7,187.5 250,175C283.3,162.5 305.0,156.7 330,150C355.0,143.3 376.7,140.8 400,135C423.3,129.2 450.0,120.0 470,115C490.0,110.0 501.7,105.0 520,105C538.3,105.0 560.0,109.2 580,115C600.0,120.8 616.7,128.3 640,140C663.3,151.7 691.7,170.8 720,185C748.3,199.2 786.7,209.2 810,225C833.3,240.8 840.0,254.2 860,280C880.0,305.8 910.8,350.0 930,380C949.2,410.0 964.2,433.3 975,460C985.8,486.7 990.8,516.7 995,540C999.2,563.3 1001.7,576.7 1000,600C998.3,623.3 993.3,656.7 985,680C976.7,703.3 963.3,722.5 950,740C936.7,757.5 915.8,770.0 905,785C894.2,800.0 886.7,815.8 885,830C883.3,844.2 885.8,856.7 895,870C904.2,883.3 922.5,897.5 940,910C957.5,922.5 981.7,935.0 1000,945C1018.3,955.0 1038.7,961.7 1050,970C1061.3,978.3 1068.0,988.0 1068,995C1068.0,1002.0 1061.3,1012.0 1050,1012C1038.7,1012.0 1018.3,1002.8 1000,995C981.7,987.2 960.0,975.0 940,965C920.0,955.0 900.0,939.2 880,935C860.0,930.8 840.0,935.0 820,940C800.0,945.0 780.0,955.0 760,965C740.0,975.0 720.0,987.5 700,1000C680.0,1012.5 660.0,1027.5 640,1040C620.0,1052.5 600.0,1066.7 580,1075C560.0,1083.3 541.7,1088.3 520,1090C498.3,1091.7 473.3,1090.0 450,1085C426.7,1080.0 401.7,1072.5 380,1060C358.3,1047.5 338.3,1026.7 320,1010C301.7,993.3 283.3,975.8 270,960C256.7,944.2 253.3,930.0 240,915C226.7,900.0 206.7,885.8 190,870C173.3,854.2 153.3,841.7 140,820C126.7,798.3 116.7,768.3 110,740C103.3,711.7 100.0,680.0 100,650C100.0,620.0 105.0,590.0 110,560C115.0,530.0 125.0,500.0 130,470C135.0,440.0 139.2,408.3 140,380C140.8,351.7 136.7,325.8 135,300C133.3,274.2 110.8,245.8 130,225Z" fill="#e2f1df" stroke="#1c1c1c" stroke-width="18.4" stroke-linejoin="round"/>
<path d="M1068,995C1065.0,997.8 1061.3,1012.0 1050,1012C1038.7,1012.0 1018.3,1002.8 1000,995C981.7,987.2 960.0,975.0 940,965C920.0,955.0 900.0,939.2 880,935C860.0,930.8 840.0,935.0 820,940C800.0,945.0 780.0,955.0 760,965C740.0,975.0 720.0,987.5 700,1000C680.0,1012.5 660.0,1027.5 640,1040C620.0,1052.5 600.0,1066.7 580,1075C560.0,1083.3 541.7,1088.3 520,1090C498.3,1091.7 461.7,1085.8 450,1085" fill="none" stroke="#7cc47c" stroke-width="18.4"/>
<path d="M210,290C230.0,310.0 293.3,376.7 330,410C366.7,443.3 401.7,460.0 430,490C458.3,520.0 471.7,556.7 500,590C528.3,623.3 566.7,658.3 600,690C633.3,721.7 661.7,748.3 700,780C738.3,811.7 788.3,853.3 830,880C871.7,906.7 912.5,920.5 950,940C987.5,959.5 1037.5,987.5 1055,997" fill="none" stroke="#86cc86" stroke-width="23.2" stroke-linecap="round"/>
<path d="M830,880 L950,940 L1055,997" fill="none" stroke="#86cc86" stroke-width="38.1" stroke-linecap="round"/>
<path d="M430,435C431.7,445.8 438.3,489.2 440,500" fill="none" stroke="#93d093" stroke-width="13.6" stroke-linecap="round"/>
<path d="M330,595C345.0,594.5 391.7,591.2 420,592C448.3,592.8 486.7,598.7 500,600" fill="none" stroke="#93d093" stroke-width="13.6" stroke-linecap="round"/>
<path d="M345,805C362.5,808.3 414.2,822.5 450,825C485.8,827.5 518.3,825.0 560,820C601.7,815.0 676.7,799.2 700,795" fill="none" stroke="#93d093" stroke-width="13.6" stroke-linecap="round"/>
<path d="M700,535C699.2,554.2 692.5,609.2 695,650C697.5,690.8 711.7,758.3 715,780" fill="none" stroke="#93d093" stroke-width="13.6" stroke-linecap="round"/>
<path d="M875,480C870.0,496.7 851.7,543.3 845,580C838.3,616.7 838.3,655.0 835,700C831.7,745.0 826.7,825.0 825,850" fill="none" stroke="#93d093" stroke-width="13.6" stroke-linecap="round"/>
<path d="M735,930C745.8,925.8 780.8,911.7 800,905C819.2,898.3 841.7,892.5 850,890" fill="none" stroke="#93d093" stroke-width="13.6" stroke-linecap="round"/>
<rect x="453" y="210" width="184" height="241" rx="75" ry="75" fill="#ecbdd7"/>
</g>
<g transform="translate(1121.4,652) scale(0.0734)">
<path d="M130,225C149.2,204.2 216.7,187.5 250,175C283.3,162.5 305.0,156.7 330,150C355.0,143.3 376.7,140.8 400,135C423.3,129.2 450.0,120.0 470,115C490.0,110.0 501.7,105.0 520,105C538.3,105.0 560.0,109.2 580,115C600.0,120.8 616.7,128.3 640,140C663.3,151.7 691.7,170.8 720,185C748.3,199.2 786.7,209.2 810,225C833.3,240.8 840.0,254.2 860,280C880.0,305.8 910.8,350.0 930,380C949.2,410.0 964.2,433.3 975,460C985.8,486.7 990.8,516.7 995,540C999.2,563.3 1001.7,576.7 1000,600C998.3,623.3 993.3,656.7 985,680C976.7,703.3 963.3,722.5 950,740C936.7,757.5 915.8,770.0 905,785C894.2,800.0 886.7,815.8 885,830C883.3,844.2 885.8,856.7 895,870C904.2,883.3 922.5,897.5 940,910C957.5,922.5 981.7,935.0 1000,945C1018.3,955.0 1038.7,961.7 1050,970C1061.3,978.3 1068.0,988.0 1068,995C1068.0,1002.0 1061.3,1012.0 1050,1012C1038.7,1012.0 1018.3,1002.8 1000,995C981.7,987.2 960.0,975.0 940,965C920.0,955.0 900.0,939.2 880,935C860.0,930.8 840.0,935.0 820,940C800.0,945.0 780.0,955.0 760,965C740.0,975.0 720.0,987.5 700,1000C680.0,1012.5 660.0,1027.5 640,1040C620.0,1052.5 600.0,1066.7 580,1075C560.0,1083.3 541.7,1088.3 520,1090C498.3,1091.7 473.3,1090.0 450,1085C426.7,1080.0 401.7,1072.5 380,1060C358.3,1047.5 338.3,1026.7 320,1010C301.7,993.3 283.3,975.8 270,960C256.7,944.2 253.3,930.0 240,915C226.7,900.0 206.7,885.8 190,870C173.3,854.2 153.3,841.7 140,820C126.7,798.3 116.7,768.3 110,740C103.3,711.7 100.0,680.0 100,650C100.0,620.0 105.0,590.0 110,560C115.0,530.0 125.0,500.0 130,470C135.0,440.0 139.2,408.3 140,380C140.8,351.7 136.7,325.8 135,300C133.3,274.2 110.8,245.8 130,225Z" fill="#e2f1df" stroke="#1c1c1c" stroke-width="18.4" stroke-linejoin="round"/>
<path d="M1068,995C1065.0,997.8 1061.3,1012.0 1050,1012C1038.7,1012.0 1018.3,1002.8 1000,995C981.7,987.2 960.0,975.0 940,965C920.0,955.0 900.0,939.2 880,935C860.0,930.8 840.0,935.0 820,940C800.0,945.0 780.0,955.0 760,965C740.0,975.0 720.0,987.5 700,1000C680.0,1012.5 660.0,1027.5 640,1040C620.0,1052.5 600.0,1066.7 580,1075C560.0,1083.3 541.7,1088.3 520,1090C498.3,1091.7 461.7,1085.8 450,1085" fill="none" stroke="#7cc47c" stroke-width="18.4"/>
<path d="M210,290C230.0,310.0 293.3,376.7 330,410C366.7,443.3 401.7,460.0 430,490C458.3,520.0 471.7,556.7 500,590C528.3,623.3 566.7,658.3 600,690C633.3,721.7 661.7,748.3 700,780C738.3,811.7 788.3,853.3 830,880C871.7,906.7 912.5,920.5 950,940C987.5,959.5 1037.5,987.5 1055,997" fill="none" stroke="#86cc86" stroke-width="23.2" stroke-linecap="round"/>
<path d="M830,880 L950,940 L1055,997" fill="none" stroke="#86cc86" stroke-width="38.1" stroke-linecap="round"/>
<path d="M430,435C431.7,445.8 438.3,489.2 440,500" fill="none" stroke="#93d093" stroke-width="13.6" stroke-linecap="round"/>
<path d="M330,595C345.0,594.5 391.7,591.2 420,592C448.3,592.8 486.7,598.7 500,600" fill="none" stroke="#93d093" stroke-width="13.6" stroke-linecap="round"/>
<path d="M345,805C362.5,808.3 414.2,822.5 450,825C485.8,827.5 518.3,825.0 560,820C601.7,815.0 676.7,799.2 700,795" fill="none" stroke="#93d093" stroke-width="13.6" stroke-linecap="round"/>
<path d="M700,535C699.2,554.2 692.5,609.2 695,650C697.5,690.8 711.7,758.3 715,780" fill="none" stroke="#93d093" stroke-width="13.6" stroke-linecap="round"/>
<path d="M875,480C870.0,496.7 851.7,543.3 845,580C838.3,616.7 838.3,655.0 835,700C831.7,745.0 826.7,825.0 825,850" fill="none" stroke="#93d093" stroke-width="13.6" stroke-linecap="round"/>
<path d="M735,930C745.8,925.8 780.8,911.7 800,905C819.2,898.3 841.7,892.5 850,890" fill="none" stroke="#93d093" stroke-width="13.6" stroke-linecap="round"/>
<rect x="453" y="210" width="184" height="241" rx="75" ry="75" fill="#e0308c"/>
</g>
<line x1="1011.3" y1="612.5" x2="1020.5" y2="612.5" stroke="#111" stroke-width="1.5"/>
<line x1="1015.9" y1="607.9" x2="1015.9" y2="617.1" stroke="#111" stroke-width="1.5"/>
<rect x="1026.4" y="606.4" width="29.2" height="12.5" rx="6.2" fill="#62cc62" stroke="#111" stroke-width="1.5"/>
<rect x="989.4" y="649.3" width="29.4" height="12.2" rx="6.1" fill="#de70b0" stroke="#111" stroke-width="1.5"/>
<line x1="1000.5" y1="703.3" x2="1009.7" y2="703.3" stroke="#111" stroke-width="1.5"/>
<line x1="1005.1" y1="698.7" x2="1005.1" y2="707.9" stroke="#111" stroke-width="1.5"/>
<rect x="1014.8" y="695.9" width="29.1" height="12.9" rx="6.4" fill="#62cc62" stroke="#111" stroke-width="1.5"/>
<path d="M1028.4,649.6 L1109.4514134518233,622.9145457943216" stroke="#455570" stroke-width="2.9" fill="none" stroke-linecap="butt"/>
<path d="M1118.0,620.1 L1103.6,619.4 L1108.5,623.2 L1106.8,629.3 Z" fill="#455570"/>
<path d="M1031.4,623 C1034,630 1038,638 1043,641 C1045,642.5 1047,642.3 1049,641.6" stroke="#455570" stroke-width="2.9" fill="none"/>
<path d="M1028.4,665.6 L1109.457095049476,692.4682558367124" stroke="#455570" stroke-width="2.9" fill="none" stroke-linecap="butt"/>
<path d="M1118.0,695.3 L1106.8,686.1 L1108.5,692.2 L1103.5,696.0 Z" fill="#455570"/>
<path d="M1030.3,691.8 C1033,685 1037,677 1042,674 C1044,672.7 1046,672.8 1048,673.3" stroke="#455570" stroke-width="2.9" fill="none"/>
<line x1="906.0" y1="961.9" x2="906.0" y2="978.3" stroke="#6e6e6e" stroke-width="1.3"/>
<line x1="906.0" y1="978.3" x2="906.0" y2="978.3" stroke="#6e6e6e" stroke-width="1.3"/>
<rect x="881.4" y="912.8" width="49.3" height="49.1" fill="#c6dff1" stroke="#808080" stroke-width="1.1"/>
<line x1="881.4" y1="930.1" x2="930.7" y2="930.1" stroke="#7a7a7a" stroke-width="1.2"/>
<line x1="968.0" y1="804.5" x2="968.0" y2="830.4" stroke="#6e6e6e" stroke-width="1.3"/>
<line x1="955.4" y1="804.5" x2="980.6" y2="804.5" stroke="#6e6e6e" stroke-width="1.3"/>
<line x1="968.0" y1="873.0" x2="968.0" y2="896.9" stroke="#6e6e6e" stroke-width="1.3"/>
<line x1="955.4" y1="896.9" x2="980.6" y2="896.9" stroke="#6e6e6e" stroke-width="1.3"/>
<rect x="943.1" y="830.4" width="49.7" height="42.6" fill="#efecd6" stroke="#808080" stroke-width="1.1"/>
<line x1="943.1" y1="859.3" x2="992.8" y2="859.3" stroke="#7a7a7a" stroke-width="1.2"/>
<line x1="1029.4" y1="939.6" x2="1029.4" y2="956.5" stroke="#6e6e6e" stroke-width="1.3"/>
<line x1="1017.0" y1="939.6" x2="1041.8" y2="939.6" stroke="#6e6e6e" stroke-width="1.3"/>
<line x1="1029.4" y1="981.0" x2="1029.4" y2="1011.4" stroke="#6e6e6e" stroke-width="1.3"/>
<line x1="1017.0" y1="1011.4" x2="1041.8" y2="1011.4" stroke="#6e6e6e" stroke-width="1.3"/>
<rect x="1004.3" y="956.5" width="50.3" height="24.5" fill="#a6dca0" stroke="#808080" stroke-width="1.1"/>
<line x1="1004.3" y1="968.2" x2="1054.6" y2="968.2" stroke="#7a7a7a" stroke-width="1.2"/>
<line x1="1091.0" y1="888.4" x2="1091.0" y2="910.1" stroke="#6e6e6e" stroke-width="1.3"/>
<line x1="1078.5" y1="888.4" x2="1103.5" y2="888.4" stroke="#6e6e6e" stroke-width="1.3"/>
<line x1="1091.0" y1="937.2" x2="1091.0" y2="989.2" stroke="#6e6e6e" stroke-width="1.3"/>
<line x1="1078.5" y1="989.2" x2="1103.5" y2="989.2" stroke="#6e6e6e" stroke-width="1.3"/>
<rect x="1066.5" y="910.1" width="49.1" height="27.1" fill="#a6dca0" stroke="#808080" stroke-width="1.1"/>
<line x1="1066.5" y1="923.2" x2="1115.6" y2="923.2" stroke="#7a7a7a" stroke-width="1.2"/>
<line x1="1153.2" y1="807.7" x2="1153.2" y2="829.7" stroke="#6e6e6e" stroke-width="1.3"/>
<line x1="1140.6" y1="807.7" x2="1165.8" y2="807.7" stroke="#6e6e6e" stroke-width="1.3"/>
<line x1="1153.2" y1="854.0" x2="1153.2" y2="913.1" stroke="#6e6e6e" stroke-width="1.3"/>
<line x1="1140.6" y1="913.1" x2="1165.8" y2="913.1" stroke="#6e6e6e" stroke-width="1.3"/>
<rect x="1128.4" y="829.7" width="49.5" height="24.3" fill="#a6dca0" stroke="#808080" stroke-width="1.1"/>
<line x1="1128.4" y1="838.8" x2="1177.9" y2="838.8" stroke="#7a7a7a" stroke-width="1.2"/>
<circle cx="897.6" cy="888.4" r="3.75" fill="#88cbf7" stroke="#111" stroke-width="1.05"/>
<circle cx="906.1" cy="890.0" r="3.75" fill="#88cbf7" stroke="#111" stroke-width="1.05"/>
<circle cx="913.9" cy="886.3" r="3.75" fill="#88cbf7" stroke="#111" stroke-width="1.05"/>
<circle cx="906.1" cy="898.7" r="3.75" fill="#88cbf7" stroke="#111" stroke-width="1.05"/>
<circle cx="896.0" cy="908.5" r="3.75" fill="#88cbf7" stroke="#111" stroke-width="1.05"/>
<circle cx="904.9" cy="908.1" r="3.75" fill="#88cbf7" stroke="#111" stroke-width="1.05"/>
<circle cx="917.7" cy="905.2" r="3.75" fill="#88cbf7" stroke="#111" stroke-width="1.05"/>
<circle cx="881.4" cy="912.0" r="3.75" fill="#88cbf7" stroke="#111" stroke-width="1.05"/>
<circle cx="888.4" cy="917.3" r="3.75" fill="#88cbf7" stroke="#111" stroke-width="1.05"/>
<circle cx="896.9" cy="920.0" r="3.75" fill="#88cbf7" stroke="#111" stroke-width="1.05"/>
<circle cx="905.5" cy="920.4" r="3.75" fill="#88cbf7" stroke="#111" stroke-width="1.05"/>
<circle cx="912.5" cy="913.6" r="3.75" fill="#88cbf7" stroke="#111" stroke-width="1.05"/>
<circle cx="920.7" cy="919.6" r="3.75" fill="#88cbf7" stroke="#111" stroke-width="1.05"/>
<circle cx="928.7" cy="916.4" r="3.75" fill="#88cbf7" stroke="#111" stroke-width="1.05"/>
<circle cx="930.9" cy="911.7" r="3.75" fill="#88cbf7" stroke="#111" stroke-width="1.05"/>
<circle cx="913.3" cy="926.3" r="3.75" fill="#88cbf7" stroke="#111" stroke-width="1.05"/>
<circle cx="883.5" cy="933.9" r="3.75" fill="#88cbf7" stroke="#111" stroke-width="1.05"/>
<circle cx="906.1" cy="933.9" r="3.75" fill="#88cbf7" stroke="#111" stroke-width="1.05"/>
<circle cx="921.8" cy="939.3" r="3.75" fill="#88cbf7" stroke="#111" stroke-width="1.05"/>
<circle cx="889.3" cy="945.0" r="3.75" fill="#88cbf7" stroke="#111" stroke-width="1.05"/>
<circle cx="898.2" cy="945.0" r="3.75" fill="#88cbf7" stroke="#111" stroke-width="1.05"/>
<circle cx="906.1" cy="952.0" r="3.75" fill="#88cbf7" stroke="#111" stroke-width="1.05"/>
<circle cx="914.6" cy="949.1" r="3.75" fill="#88cbf7" stroke="#111" stroke-width="1.05"/>
<circle cx="930.9" cy="959.9" r="3.75" fill="#88cbf7" stroke="#111" stroke-width="1.05"/>
<circle cx="881.4" cy="966.4" r="3.75" fill="#88cbf7" stroke="#111" stroke-width="1.05"/>
<circle cx="881.4" cy="970.2" r="3.75" fill="#88cbf7" stroke="#111" stroke-width="1.05"/>
<circle cx="930.9" cy="968.0" r="3.75" fill="#88cbf7" stroke="#111" stroke-width="1.05"/>
<circle cx="889.0" cy="973.5" r="3.75" fill="#88cbf7" stroke="#111" stroke-width="1.05"/>
<circle cx="897.4" cy="977.3" r="3.75" fill="#88cbf7" stroke="#111" stroke-width="1.05"/>
<circle cx="906.1" cy="977.8" r="3.75" fill="#88cbf7" stroke="#111" stroke-width="1.05"/>
<circle cx="914.6" cy="975.1" r="3.75" fill="#88cbf7" stroke="#111" stroke-width="1.05"/>
<circle cx="923.3" cy="972.4" r="3.75" fill="#88cbf7" stroke="#111" stroke-width="1.05"/>
<circle cx="967.6" cy="804.2" r="3.75" fill="#f1e9bb" stroke="#111" stroke-width="1.05"/>
<circle cx="967.6" cy="807.9" r="3.75" fill="#f1e9bb" stroke="#111" stroke-width="1.05"/>
<circle cx="967.6" cy="810.6" r="3.75" fill="#f1e9bb" stroke="#111" stroke-width="1.05"/>
<circle cx="967.6" cy="812.9" r="3.75" fill="#f1e9bb" stroke="#111" stroke-width="1.05"/>
<circle cx="960.1" cy="819.2" r="3.75" fill="#f1e9bb" stroke="#111" stroke-width="1.05"/>
<circle cx="972.9" cy="818.6" r="3.75" fill="#f1e9bb" stroke="#111" stroke-width="1.05"/>
<circle cx="967.6" cy="821.2" r="3.75" fill="#f1e9bb" stroke="#111" stroke-width="1.05"/>
<circle cx="959.4" cy="824.4" r="3.75" fill="#f1e9bb" stroke="#111" stroke-width="1.05"/>
<circle cx="967.6" cy="825.3" r="3.75" fill="#f1e9bb" stroke="#111" stroke-width="1.05"/>
<circle cx="959.2" cy="832.0" r="3.75" fill="#f1e9bb" stroke="#111" stroke-width="1.05"/>
<circle cx="967.6" cy="832.7" r="3.75" fill="#f1e9bb" stroke="#111" stroke-width="1.05"/>
<circle cx="959.8" cy="837.2" r="3.75" fill="#f1e9bb" stroke="#111" stroke-width="1.05"/>
<circle cx="967.6" cy="839.1" r="3.75" fill="#f1e9bb" stroke="#111" stroke-width="1.05"/>
<circle cx="959.2" cy="842.8" r="3.75" fill="#f1e9bb" stroke="#111" stroke-width="1.05"/>
<circle cx="967.6" cy="844.1" r="3.75" fill="#f1e9bb" stroke="#111" stroke-width="1.05"/>
<circle cx="975.9" cy="841.8" r="3.75" fill="#f1e9bb" stroke="#111" stroke-width="1.05"/>
<circle cx="943.6" cy="859.7" r="3.75" fill="#f1e9bb" stroke="#111" stroke-width="1.05"/>
<circle cx="950.9" cy="862.9" r="3.75" fill="#f1e9bb" stroke="#111" stroke-width="1.05"/>
<circle cx="959.2" cy="864.8" r="3.75" fill="#f1e9bb" stroke="#111" stroke-width="1.05"/>
<circle cx="964.4" cy="859.7" r="3.75" fill="#f1e9bb" stroke="#111" stroke-width="1.05"/>
<circle cx="972.9" cy="858.6" r="3.75" fill="#f1e9bb" stroke="#111" stroke-width="1.05"/>
<circle cx="976.3" cy="864.5" r="3.75" fill="#f1e9bb" stroke="#111" stroke-width="1.05"/>
<circle cx="983.7" cy="861.1" r="3.75" fill="#f1e9bb" stroke="#111" stroke-width="1.05"/>
<circle cx="967.6" cy="865.7" r="3.75" fill="#f1e9bb" stroke="#111" stroke-width="1.05"/>
<circle cx="967.6" cy="872.6" r="3.75" fill="#f1e9bb" stroke="#111" stroke-width="1.05"/>
<circle cx="951.6" cy="874.2" r="3.75" fill="#f1e9bb" stroke="#111" stroke-width="1.05"/>
<circle cx="960.1" cy="876.1" r="3.75" fill="#f1e9bb" stroke="#111" stroke-width="1.05"/>
<circle cx="967.6" cy="879.4" r="3.75" fill="#f1e9bb" stroke="#111" stroke-width="1.05"/>
<circle cx="976.3" cy="879.0" r="3.75" fill="#f1e9bb" stroke="#111" stroke-width="1.05"/>
<circle cx="984.1" cy="875.3" r="3.75" fill="#f1e9bb" stroke="#111" stroke-width="1.05"/>
<circle cx="959.2" cy="885.0" r="3.75" fill="#f1e9bb" stroke="#111" stroke-width="1.05"/>
<circle cx="967.6" cy="887.2" r="3.75" fill="#f1e9bb" stroke="#111" stroke-width="1.05"/>
<circle cx="967.6" cy="896.9" r="3.75" fill="#f1e9bb" stroke="#111" stroke-width="1.05"/>
<circle cx="1029.2" cy="939.6" r="3.75" fill="#5cc95c" stroke="#111" stroke-width="1.05"/>
<circle cx="1004.9" cy="946.0" r="3.75" fill="#5cc95c" stroke="#111" stroke-width="1.05"/>
<circle cx="1020.7" cy="950.1" r="3.75" fill="#5cc95c" stroke="#111" stroke-width="1.05"/>
<circle cx="1036.5" cy="950.3" r="3.75" fill="#5cc95c" stroke="#111" stroke-width="1.05"/>
<circle cx="1045.0" cy="946.6" r="3.75" fill="#5cc95c" stroke="#111" stroke-width="1.05"/>
<circle cx="1054.0" cy="947.8" r="3.75" fill="#5cc95c" stroke="#111" stroke-width="1.05"/>
<circle cx="1054.0" cy="951.3" r="3.75" fill="#5cc95c" stroke="#111" stroke-width="1.05"/>
<circle cx="1054.0" cy="954.8" r="3.75" fill="#5cc95c" stroke="#111" stroke-width="1.05"/>
<circle cx="1054.0" cy="957.7" r="3.75" fill="#5cc95c" stroke="#111" stroke-width="1.05"/>
<circle cx="1004.9" cy="956.5" r="3.75" fill="#5cc95c" stroke="#111" stroke-width="1.05"/>
<circle cx="1004.9" cy="960.0" r="3.75" fill="#5cc95c" stroke="#111" stroke-width="1.05"/>
<circle cx="1004.9" cy="961.8" r="3.75" fill="#5cc95c" stroke="#111" stroke-width="1.05"/>
<circle cx="1010.8" cy="962.9" r="3.75" fill="#5cc95c" stroke="#111" stroke-width="1.05"/>
<circle cx="1028.6" cy="958.5" r="3.75" fill="#5cc95c" stroke="#111" stroke-width="1.05"/>
<circle cx="1051.1" cy="961.8" r="3.75" fill="#5cc95c" stroke="#111" stroke-width="1.05"/>
<circle cx="1042.7" cy="966.4" r="3.75" fill="#5cc95c" stroke="#111" stroke-width="1.05"/>
<circle cx="1054.0" cy="966.4" r="3.75" fill="#5cc95c" stroke="#111" stroke-width="1.05"/>
<circle cx="1054.0" cy="971.7" r="3.75" fill="#5cc95c" stroke="#111" stroke-width="1.05"/>
<circle cx="1054.0" cy="976.4" r="3.75" fill="#5cc95c" stroke="#111" stroke-width="1.05"/>
<circle cx="1004.9" cy="970.5" r="3.75" fill="#5cc95c" stroke="#111" stroke-width="1.05"/>
<circle cx="1004.9" cy="973.5" r="3.75" fill="#5cc95c" stroke="#111" stroke-width="1.05"/>
<circle cx="1004.9" cy="979.3" r="3.75" fill="#5cc95c" stroke="#111" stroke-width="1.05"/>
<circle cx="1004.9" cy="982.2" r="3.75" fill="#5cc95c" stroke="#111" stroke-width="1.05"/>
<circle cx="1018.1" cy="972.5" r="3.75" fill="#5cc95c" stroke="#111" stroke-width="1.05"/>
<circle cx="1034.7" cy="974.4" r="3.75" fill="#5cc95c" stroke="#111" stroke-width="1.05"/>
<circle cx="1026.3" cy="981.0" r="3.75" fill="#5cc95c" stroke="#111" stroke-width="1.05"/>
<circle cx="1054.0" cy="987.7" r="3.75" fill="#5cc95c" stroke="#111" stroke-width="1.05"/>
<circle cx="1046.2" cy="992.7" r="3.75" fill="#5cc95c" stroke="#111" stroke-width="1.05"/>
<circle cx="1012.3" cy="996.6" r="3.75" fill="#5cc95c" stroke="#111" stroke-width="1.05"/>
<circle cx="1038.0" cy="1002.9" r="3.75" fill="#5cc95c" stroke="#111" stroke-width="1.05"/>
<circle cx="1020.9" cy="1005.2" r="3.75" fill="#5cc95c" stroke="#111" stroke-width="1.05"/>
<circle cx="1029.2" cy="1011.4" r="3.75" fill="#5cc95c" stroke="#111" stroke-width="1.05"/>
<circle cx="1090.8" cy="888.2" r="3.75" fill="#5cc95c" stroke="#111" stroke-width="1.05"/>
<circle cx="1075.0" cy="891.1" r="3.75" fill="#5cc95c" stroke="#111" stroke-width="1.05"/>
<circle cx="1082.4" cy="895.8" r="3.75" fill="#5cc95c" stroke="#111" stroke-width="1.05"/>
<circle cx="1091.4" cy="896.4" r="3.75" fill="#5cc95c" stroke="#111" stroke-width="1.05"/>
<circle cx="1105.4" cy="895.2" r="3.75" fill="#5cc95c" stroke="#111" stroke-width="1.05"/>
<circle cx="1086.1" cy="903.4" r="3.75" fill="#5cc95c" stroke="#111" stroke-width="1.05"/>
<circle cx="1100.1" cy="902.4" r="3.75" fill="#5cc95c" stroke="#111" stroke-width="1.05"/>
<circle cx="1093.7" cy="908.6" r="3.75" fill="#5cc95c" stroke="#111" stroke-width="1.05"/>
<circle cx="1075.0" cy="910.6" r="3.75" fill="#5cc95c" stroke="#111" stroke-width="1.05"/>
<circle cx="1083.2" cy="913.9" r="3.75" fill="#5cc95c" stroke="#111" stroke-width="1.05"/>
<circle cx="1066.0" cy="918.0" r="3.75" fill="#5cc95c" stroke="#111" stroke-width="1.05"/>
<circle cx="1066.0" cy="922.6" r="3.75" fill="#5cc95c" stroke="#111" stroke-width="1.05"/>
<circle cx="1072.1" cy="923.5" r="3.75" fill="#5cc95c" stroke="#111" stroke-width="1.05"/>
<circle cx="1090.8" cy="918.6" r="3.75" fill="#5cc95c" stroke="#111" stroke-width="1.05"/>
<circle cx="1100.1" cy="916.8" r="3.75" fill="#5cc95c" stroke="#111" stroke-width="1.05"/>
<circle cx="1115.6" cy="917.4" r="3.75" fill="#5cc95c" stroke="#111" stroke-width="1.05"/>
<circle cx="1115.6" cy="920.9" r="3.75" fill="#5cc95c" stroke="#111" stroke-width="1.05"/>
<circle cx="1115.6" cy="923.8" r="3.75" fill="#5cc95c" stroke="#111" stroke-width="1.05"/>
<circle cx="1083.8" cy="925.8" r="3.75" fill="#5cc95c" stroke="#111" stroke-width="1.05"/>
<circle cx="1099.0" cy="929.1" r="3.75" fill="#5cc95c" stroke="#111" stroke-width="1.05"/>
<circle cx="1107.1" cy="924.4" r="3.75" fill="#5cc95c" stroke="#111" stroke-width="1.05"/>
<circle cx="1067.7" cy="934.9" r="3.75" fill="#5cc95c" stroke="#111" stroke-width="1.05"/>
<circle cx="1076.2" cy="934.9" r="3.75" fill="#5cc95c" stroke="#111" stroke-width="1.05"/>
<circle cx="1090.8" cy="933.5" r="3.75" fill="#5cc95c" stroke="#111" stroke-width="1.05"/>
<circle cx="1082.4" cy="946.0" r="3.75" fill="#5cc95c" stroke="#111" stroke-width="1.05"/>
<circle cx="1099.0" cy="943.3" r="3.75" fill="#5cc95c" stroke="#111" stroke-width="1.05"/>
<circle cx="1107.7" cy="943.1" r="3.75" fill="#5cc95c" stroke="#111" stroke-width="1.05"/>
<circle cx="1090.8" cy="949.9" r="3.75" fill="#5cc95c" stroke="#111" stroke-width="1.05"/>
<circle cx="1082.4" cy="981.6" r="3.75" fill="#5cc95c" stroke="#111" stroke-width="1.05"/>
<circle cx="1099.0" cy="979.9" r="3.75" fill="#5cc95c" stroke="#111" stroke-width="1.05"/>
<circle cx="1107.7" cy="975.2" r="3.75" fill="#5cc95c" stroke="#111" stroke-width="1.05"/>
<circle cx="1090.8" cy="989.2" r="3.75" fill="#5cc95c" stroke="#111" stroke-width="1.05"/>
<circle cx="1153.2" cy="807.5" r="3.75" fill="#5cc95c" stroke="#111" stroke-width="1.05"/>
<circle cx="1153.2" cy="811.6" r="3.75" fill="#5cc95c" stroke="#111" stroke-width="1.05"/>
<circle cx="1153.2" cy="815.1" r="3.75" fill="#5cc95c" stroke="#111" stroke-width="1.05"/>
<circle cx="1153.2" cy="818.6" r="3.75" fill="#5cc95c" stroke="#111" stroke-width="1.05"/>
<circle cx="1131.6" cy="826.2" r="3.75" fill="#5cc95c" stroke="#111" stroke-width="1.05"/>
<circle cx="1140.1" cy="827.1" r="3.75" fill="#5cc95c" stroke="#111" stroke-width="1.05"/>
<circle cx="1148.3" cy="827.9" r="3.75" fill="#5cc95c" stroke="#111" stroke-width="1.05"/>
<circle cx="1156.5" cy="827.4" r="3.75" fill="#5cc95c" stroke="#111" stroke-width="1.05"/>
<circle cx="1165.4" cy="827.4" r="3.75" fill="#5cc95c" stroke="#111" stroke-width="1.05"/>
<circle cx="1174.0" cy="827.1" r="3.75" fill="#5cc95c" stroke="#111" stroke-width="1.05"/>
<circle cx="1153.2" cy="830.9" r="3.75" fill="#5cc95c" stroke="#111" stroke-width="1.05"/>
<circle cx="1132.8" cy="836.9" r="3.75" fill="#5cc95c" stroke="#111" stroke-width="1.05"/>
<circle cx="1140.1" cy="839.0" r="3.75" fill="#5cc95c" stroke="#111" stroke-width="1.05"/>
<circle cx="1148.5" cy="839.0" r="3.75" fill="#5cc95c" stroke="#111" stroke-width="1.05"/>
<circle cx="1155.5" cy="837.3" r="3.75" fill="#5cc95c" stroke="#111" stroke-width="1.05"/>
<circle cx="1163.9" cy="841.9" r="3.75" fill="#5cc95c" stroke="#111" stroke-width="1.05"/>
<circle cx="1169.8" cy="838.4" r="3.75" fill="#5cc95c" stroke="#111" stroke-width="1.05"/>
<circle cx="1155.5" cy="842.5" r="3.75" fill="#5cc95c" stroke="#111" stroke-width="1.05"/>
<circle cx="1148.5" cy="844.9" r="3.75" fill="#5cc95c" stroke="#111" stroke-width="1.05"/>
<circle cx="1154.9" cy="847.2" r="3.75" fill="#5cc95c" stroke="#111" stroke-width="1.05"/>
<circle cx="1145.3" cy="849.5" r="3.75" fill="#5cc95c" stroke="#111" stroke-width="1.05"/>
<circle cx="1153.2" cy="851.9" r="3.75" fill="#5cc95c" stroke="#111" stroke-width="1.05"/>
<circle cx="1153.2" cy="860.6" r="3.75" fill="#5cc95c" stroke="#111" stroke-width="1.05"/>
<circle cx="1147.4" cy="870.0" r="3.75" fill="#5cc95c" stroke="#111" stroke-width="1.05"/>
<circle cx="1158.1" cy="870.0" r="3.75" fill="#5cc95c" stroke="#111" stroke-width="1.05"/>
<circle cx="1153.2" cy="875.0" r="3.75" fill="#5cc95c" stroke="#111" stroke-width="1.05"/>
<circle cx="1153.2" cy="883.1" r="3.75" fill="#5cc95c" stroke="#111" stroke-width="1.05"/>
<circle cx="1153.2" cy="891.3" r="3.75" fill="#5cc95c" stroke="#111" stroke-width="1.05"/>
<circle cx="1145.6" cy="907.9" r="3.75" fill="#5cc95c" stroke="#111" stroke-width="1.05"/>
<circle cx="1153.2" cy="913.1" r="3.75" fill="#5cc95c" stroke="#111" stroke-width="1.05"/>
<rect x="875.3" y="768.3" width="309.0" height="317.9" fill="none" stroke="#3a3a3a" stroke-width="1.3"/>
<line x1="870.0" y1="1075.7" x2="875.3" y2="1075.7" stroke="#3a3a3a" stroke-width="1.2"/>
<line x1="870.0" y1="1062.2" x2="875.3" y2="1062.2" stroke="#3a3a3a" stroke-width="1.2"/>
<line x1="870.0" y1="1050.8" x2="875.3" y2="1050.8" stroke="#3a3a3a" stroke-width="1.2"/>
<line x1="870.0" y1="1041.0" x2="875.3" y2="1041.0" stroke="#3a3a3a" stroke-width="1.2"/>
<line x1="870.0" y1="1032.3" x2="875.3" y2="1032.3" stroke="#3a3a3a" stroke-width="1.2"/>
<line x1="870.0" y1="973.3" x2="875.3" y2="973.3" stroke="#3a3a3a" stroke-width="1.2"/>
<line x1="870.0" y1="943.4" x2="875.3" y2="943.4" stroke="#3a3a3a" stroke-width="1.2"/>
<line x1="870.0" y1="922.1" x2="875.3" y2="922.1" stroke="#3a3a3a" stroke-width="1.2"/>
<line x1="870.0" y1="905.7" x2="875.3" y2="905.7" stroke="#3a3a3a" stroke-width="1.2"/>
<line x1="870.0" y1="892.2" x2="875.3" y2="892.2" stroke="#3a3a3a" stroke-width="1.2"/>
<line x1="870.0" y1="880.8" x2="875.3" y2="880.8" stroke="#3a3a3a" stroke-width="1.2"/>
<line x1="870.0" y1="871.0" x2="875.3" y2="871.0" stroke="#3a3a3a" stroke-width="1.2"/>
<line x1="870.0" y1="862.3" x2="875.3" y2="862.3" stroke="#3a3a3a" stroke-width="1.2"/>
<line x1="870.0" y1="803.3" x2="875.3" y2="803.3" stroke="#3a3a3a" stroke-width="1.2"/>
<line x1="866.0" y1="1024.5" x2="875.3" y2="1024.5" stroke="#3a3a3a" stroke-width="1.2"/>
<line x1="866.0" y1="854.5" x2="875.3" y2="854.5" stroke="#3a3a3a" stroke-width="1.2"/>
<text x="830.7" y="859.0" font-size="17" textLength="18.3" lengthAdjust="spacingAndGlyphs">10</text>
<text x="851.0" y="849.7" font-size="11">4</text>
<text x="830.7" y="1029.0" font-size="17" textLength="18.3" lengthAdjust="spacingAndGlyphs">10</text>
<text x="851.0" y="1019.7" font-size="11">3</text>
<line x1="906.2" y1="1086.2" x2="906.2" y2="1096.2" stroke="#3a3a3a" stroke-width="1.2"/>
<line x1="967.5" y1="1086.2" x2="967.5" y2="1096.2" stroke="#3a3a3a" stroke-width="1.2"/>
<line x1="1029.3" y1="1086.2" x2="1029.3" y2="1096.2" stroke="#3a3a3a" stroke-width="1.2"/>
<line x1="1091.0" y1="1086.2" x2="1091.0" y2="1096.2" stroke="#3a3a3a" stroke-width="1.2"/>
<line x1="1152.3" y1="1086.2" x2="1152.3" y2="1096.2" stroke="#3a3a3a" stroke-width="1.2"/>
<text transform="translate(914.5,1115.5) rotate(-45)" font-size="17.5" text-anchor="end" textLength="49.7" lengthAdjust="spacingAndGlyphs">Buffer</text>
<text transform="translate(977.8,1115.5) rotate(-45)" font-size="17.5" text-anchor="end" textLength="22.7" lengthAdjust="spacingAndGlyphs">EV</text>
<text transform="translate(1037.6,1115.5) rotate(-45)" font-size="17.5" text-anchor="end" textLength="64.4" lengthAdjust="spacingAndGlyphs">Δ<tspan font-style="italic">virB1-11</tspan></text>
<text transform="translate(1099.3,1115.5) rotate(-45)" font-size="17.5" text-anchor="end" textLength="61.1" lengthAdjust="spacingAndGlyphs">Δ<tspan font-style="italic">virE1,2</tspan></text>
<text transform="translate(1160.6,1115.5) rotate(-45)" font-size="17.5" text-anchor="end" textLength="64.0" lengthAdjust="spacingAndGlyphs">Δ<tspan font-style="italic">virD1,2</tspan></text>
<text x="905.0" y="861.3" font-size="22" text-anchor="middle">a</text>
<text x="968.0" y="788.5" font-size="22" text-anchor="middle">b</text>
<text x="1029.2" y="922.6" font-size="22" text-anchor="middle">c</text>
<text x="1089.8" y="870.8" font-size="22" text-anchor="middle">a</text>
<text x="1153.5" y="788.5" font-size="22" text-anchor="middle">b</text>
<text x="1028.9" y="1198.0" font-size="21" text-anchor="middle" textLength="134.3" lengthAdjust="spacingAndGlyphs">Second strain</text>
<text transform="translate(811.6,928.1) rotate(-90)" font-size="21.5" text-anchor="middle" textLength="225.6" lengthAdjust="spacingAndGlyphs">RFP fluorescence (a.u.)</text>
</svg></body></html>
